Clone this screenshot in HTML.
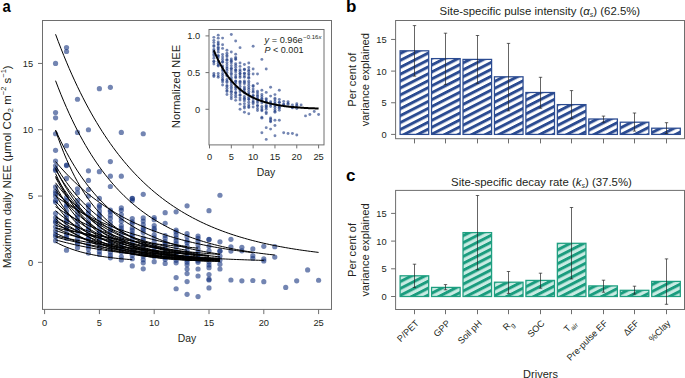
<!DOCTYPE html>
<html><head><meta charset="utf-8"><style>html,body{margin:0;padding:0;background:#fff;width:685px;height:378px;overflow:hidden}svg{display:block}</style></head>
<body><svg width="685" height="378" viewBox="0 0 685 378"><defs>
<pattern id="hb" patternUnits="userSpaceOnUse" width="10" height="6.16" patternTransform="rotate(-27)">
<rect width="10" height="6.16" fill="#fff"/><rect y="0" width="10" height="2.95" fill="#2b4b91"/></pattern>
<pattern id="hc" patternUnits="userSpaceOnUse" width="10" height="6.16" patternTransform="rotate(-27)">
<rect width="10" height="6.16" fill="#c9ebe3"/><rect y="0" width="10" height="2.95" fill="#1a9c7e"/></pattern>
</defs><rect width="685" height="378" fill="#fff"/><rect x="42.5" y="20.5" width="289.0" height="288.9" fill="none" stroke="#6e6e6e" stroke-width="1"/>
<line x1="44.60" y1="309.4" x2="44.60" y2="314.09999999999997" stroke="#6e6e6e" stroke-width="1"/>
<text x="44.60" y="325.9" font-family="Liberation Sans" font-size="9.3" text-anchor="middle" fill="#231f20">0</text>
<line x1="99.40" y1="309.4" x2="99.40" y2="314.09999999999997" stroke="#6e6e6e" stroke-width="1"/>
<text x="99.40" y="325.9" font-family="Liberation Sans" font-size="9.3" text-anchor="middle" fill="#231f20">5</text>
<line x1="154.20" y1="309.4" x2="154.20" y2="314.09999999999997" stroke="#6e6e6e" stroke-width="1"/>
<text x="154.20" y="325.9" font-family="Liberation Sans" font-size="9.3" text-anchor="middle" fill="#231f20">10</text>
<line x1="209.00" y1="309.4" x2="209.00" y2="314.09999999999997" stroke="#6e6e6e" stroke-width="1"/>
<text x="209.00" y="325.9" font-family="Liberation Sans" font-size="9.3" text-anchor="middle" fill="#231f20">15</text>
<line x1="263.80" y1="309.4" x2="263.80" y2="314.09999999999997" stroke="#6e6e6e" stroke-width="1"/>
<text x="263.80" y="325.9" font-family="Liberation Sans" font-size="9.3" text-anchor="middle" fill="#231f20">20</text>
<line x1="318.60" y1="309.4" x2="318.60" y2="314.09999999999997" stroke="#6e6e6e" stroke-width="1"/>
<text x="318.60" y="325.9" font-family="Liberation Sans" font-size="9.3" text-anchor="middle" fill="#231f20">25</text>
<line x1="38.0" y1="262.35" x2="42.5" y2="262.35" stroke="#6e6e6e" stroke-width="1"/>
<text x="33.2" y="265.75" font-family="Liberation Sans" font-size="9.3" text-anchor="end" fill="#231f20">0</text>
<line x1="38.0" y1="196.05" x2="42.5" y2="196.05" stroke="#6e6e6e" stroke-width="1"/>
<text x="33.2" y="199.45" font-family="Liberation Sans" font-size="9.3" text-anchor="end" fill="#231f20">5</text>
<line x1="38.0" y1="129.75" x2="42.5" y2="129.75" stroke="#6e6e6e" stroke-width="1"/>
<text x="33.2" y="133.15" font-family="Liberation Sans" font-size="9.3" text-anchor="end" fill="#231f20">10</text>
<line x1="38.0" y1="63.45" x2="42.5" y2="63.45" stroke="#6e6e6e" stroke-width="1"/>
<text x="33.2" y="66.85" font-family="Liberation Sans" font-size="9.3" text-anchor="end" fill="#231f20">15</text>
<text x="187" y="342" font-family="Liberation Sans" font-size="10.4" text-anchor="middle" fill="#231f20">Day</text>
<text transform="translate(10.6,166.8) rotate(-90)" font-family="Liberation Sans" font-size="11.5" text-anchor="middle" fill="#231f20">Maximum daily NEE (μmol CO<tspan font-size="7.5" dy="2.2">2</tspan><tspan dy="-2.2"> m</tspan><tspan font-size="7.5" dy="-4.5">−2</tspan><tspan dy="4.5"> s</tspan><tspan font-size="7.5" dy="-4.5">−1</tspan><tspan dy="4.5">)</tspan></text>
<text transform="translate(2.4,11.9) scale(0.87,1)" font-family="Liberation Sans" font-size="17" font-weight="bold" fill="#000">a</text>
<g fill="#15337f" fill-opacity="0.6">
<circle cx="55.56" cy="63.45" r="2.6"/>
<circle cx="55.56" cy="112.51" r="2.6"/>
<circle cx="55.56" cy="117.82" r="2.6"/>
<circle cx="55.56" cy="133.73" r="2.6"/>
<circle cx="55.56" cy="150.30" r="2.6"/>
<circle cx="55.56" cy="161.04" r="2.6"/>
<circle cx="55.56" cy="165.82" r="2.6"/>
<circle cx="55.56" cy="170.38" r="2.6"/>
<circle cx="55.56" cy="169.24" r="2.6"/>
<circle cx="55.56" cy="202.09" r="2.6"/>
<circle cx="55.56" cy="200.42" r="2.6"/>
<circle cx="55.56" cy="196.18" r="2.6"/>
<circle cx="55.56" cy="193.51" r="2.6"/>
<circle cx="55.56" cy="191.18" r="2.6"/>
<circle cx="55.56" cy="186.97" r="2.6"/>
<circle cx="55.56" cy="240.71" r="2.6"/>
<circle cx="55.56" cy="236.44" r="2.6"/>
<circle cx="55.56" cy="234.15" r="2.6"/>
<circle cx="55.56" cy="230.85" r="2.6"/>
<circle cx="55.56" cy="226.74" r="2.6"/>
<circle cx="55.56" cy="222.46" r="2.6"/>
<circle cx="55.56" cy="221.04" r="2.6"/>
<circle cx="55.56" cy="217.54" r="2.6"/>
<circle cx="55.56" cy="213.25" r="2.6"/>
<circle cx="66.52" cy="47.54" r="2.6"/>
<circle cx="66.52" cy="51.52" r="2.6"/>
<circle cx="66.52" cy="145.66" r="2.6"/>
<circle cx="66.52" cy="165.02" r="2.6"/>
<circle cx="66.52" cy="165.55" r="2.6"/>
<circle cx="66.52" cy="178.41" r="2.6"/>
<circle cx="66.52" cy="238.37" r="2.6"/>
<circle cx="66.52" cy="236.10" r="2.6"/>
<circle cx="66.52" cy="233.35" r="2.6"/>
<circle cx="66.52" cy="228.64" r="2.6"/>
<circle cx="66.52" cy="227.81" r="2.6"/>
<circle cx="66.52" cy="222.50" r="2.6"/>
<circle cx="66.52" cy="220.74" r="2.6"/>
<circle cx="66.52" cy="217.90" r="2.6"/>
<circle cx="66.52" cy="214.75" r="2.6"/>
<circle cx="66.52" cy="211.03" r="2.6"/>
<circle cx="66.52" cy="206.51" r="2.6"/>
<circle cx="66.52" cy="204.92" r="2.6"/>
<circle cx="66.52" cy="200.67" r="2.6"/>
<circle cx="66.52" cy="197.30" r="2.6"/>
<circle cx="66.52" cy="250.15" r="2.6"/>
<circle cx="77.48" cy="99.25" r="2.6"/>
<circle cx="77.48" cy="132.40" r="2.6"/>
<circle cx="77.48" cy="188.76" r="2.6"/>
<circle cx="77.48" cy="192.74" r="2.6"/>
<circle cx="77.48" cy="247.76" r="2.6"/>
<circle cx="77.48" cy="243.96" r="2.6"/>
<circle cx="77.48" cy="241.92" r="2.6"/>
<circle cx="77.48" cy="238.60" r="2.6"/>
<circle cx="77.48" cy="234.88" r="2.6"/>
<circle cx="77.48" cy="230.28" r="2.6"/>
<circle cx="77.48" cy="227.62" r="2.6"/>
<circle cx="77.48" cy="224.59" r="2.6"/>
<circle cx="77.48" cy="220.53" r="2.6"/>
<circle cx="77.48" cy="217.55" r="2.6"/>
<circle cx="77.48" cy="214.63" r="2.6"/>
<circle cx="77.48" cy="209.98" r="2.6"/>
<circle cx="77.48" cy="206.90" r="2.6"/>
<circle cx="77.48" cy="204.78" r="2.6"/>
<circle cx="77.48" cy="200.57" r="2.6"/>
<circle cx="88.44" cy="129.75" r="2.6"/>
<circle cx="88.44" cy="170.86" r="2.6"/>
<circle cx="88.44" cy="180.40" r="2.6"/>
<circle cx="88.44" cy="189.55" r="2.6"/>
<circle cx="88.44" cy="196.05" r="2.6"/>
<circle cx="88.44" cy="253.23" r="2.6"/>
<circle cx="88.44" cy="249.05" r="2.6"/>
<circle cx="88.44" cy="246.16" r="2.6"/>
<circle cx="88.44" cy="244.05" r="2.6"/>
<circle cx="88.44" cy="238.98" r="2.6"/>
<circle cx="88.44" cy="237.96" r="2.6"/>
<circle cx="88.44" cy="233.91" r="2.6"/>
<circle cx="88.44" cy="229.76" r="2.6"/>
<circle cx="88.44" cy="228.08" r="2.6"/>
<circle cx="88.44" cy="223.93" r="2.6"/>
<circle cx="88.44" cy="221.84" r="2.6"/>
<circle cx="88.44" cy="216.93" r="2.6"/>
<circle cx="88.44" cy="213.42" r="2.6"/>
<circle cx="88.44" cy="210.65" r="2.6"/>
<circle cx="88.44" cy="206.60" r="2.6"/>
<circle cx="88.44" cy="204.80" r="2.6"/>
<circle cx="99.40" cy="88.64" r="2.6"/>
<circle cx="99.40" cy="171.65" r="2.6"/>
<circle cx="99.40" cy="198.44" r="2.6"/>
<circle cx="99.40" cy="254.44" r="2.6"/>
<circle cx="99.40" cy="251.53" r="2.6"/>
<circle cx="99.40" cy="248.40" r="2.6"/>
<circle cx="99.40" cy="245.54" r="2.6"/>
<circle cx="99.40" cy="241.40" r="2.6"/>
<circle cx="99.40" cy="237.97" r="2.6"/>
<circle cx="99.40" cy="236.00" r="2.6"/>
<circle cx="99.40" cy="232.35" r="2.6"/>
<circle cx="99.40" cy="230.71" r="2.6"/>
<circle cx="99.40" cy="225.92" r="2.6"/>
<circle cx="99.40" cy="222.89" r="2.6"/>
<circle cx="99.40" cy="218.85" r="2.6"/>
<circle cx="99.40" cy="216.12" r="2.6"/>
<circle cx="99.40" cy="214.31" r="2.6"/>
<circle cx="99.40" cy="210.89" r="2.6"/>
<circle cx="99.40" cy="207.00" r="2.6"/>
<circle cx="99.40" cy="205.47" r="2.6"/>
<circle cx="110.36" cy="87.32" r="2.6"/>
<circle cx="110.36" cy="161.57" r="2.6"/>
<circle cx="110.36" cy="176.16" r="2.6"/>
<circle cx="110.36" cy="186.50" r="2.6"/>
<circle cx="110.36" cy="257.79" r="2.6"/>
<circle cx="110.36" cy="255.34" r="2.6"/>
<circle cx="110.36" cy="252.26" r="2.6"/>
<circle cx="110.36" cy="249.21" r="2.6"/>
<circle cx="110.36" cy="244.18" r="2.6"/>
<circle cx="110.36" cy="242.61" r="2.6"/>
<circle cx="110.36" cy="239.10" r="2.6"/>
<circle cx="110.36" cy="235.53" r="2.6"/>
<circle cx="110.36" cy="231.09" r="2.6"/>
<circle cx="110.36" cy="229.91" r="2.6"/>
<circle cx="110.36" cy="225.75" r="2.6"/>
<circle cx="110.36" cy="222.29" r="2.6"/>
<circle cx="110.36" cy="218.23" r="2.6"/>
<circle cx="110.36" cy="215.18" r="2.6"/>
<circle cx="110.36" cy="211.86" r="2.6"/>
<circle cx="110.36" cy="210.16" r="2.6"/>
<circle cx="121.32" cy="132.40" r="2.6"/>
<circle cx="121.32" cy="176.16" r="2.6"/>
<circle cx="121.32" cy="259.90" r="2.6"/>
<circle cx="121.32" cy="256.83" r="2.6"/>
<circle cx="121.32" cy="252.27" r="2.6"/>
<circle cx="121.32" cy="248.86" r="2.6"/>
<circle cx="121.32" cy="247.73" r="2.6"/>
<circle cx="121.32" cy="244.45" r="2.6"/>
<circle cx="121.32" cy="241.09" r="2.6"/>
<circle cx="121.32" cy="237.87" r="2.6"/>
<circle cx="121.32" cy="234.01" r="2.6"/>
<circle cx="121.32" cy="230.53" r="2.6"/>
<circle cx="121.32" cy="228.16" r="2.6"/>
<circle cx="121.32" cy="225.61" r="2.6"/>
<circle cx="121.32" cy="221.33" r="2.6"/>
<circle cx="121.32" cy="218.24" r="2.6"/>
<circle cx="121.32" cy="214.52" r="2.6"/>
<circle cx="121.32" cy="210.31" r="2.6"/>
<circle cx="121.32" cy="207.78" r="2.6"/>
<circle cx="132.28" cy="198.30" r="2.6"/>
<circle cx="132.28" cy="198.70" r="2.6"/>
<circle cx="132.28" cy="200.56" r="2.6"/>
<circle cx="132.28" cy="258.74" r="2.6"/>
<circle cx="132.28" cy="255.30" r="2.6"/>
<circle cx="132.28" cy="251.98" r="2.6"/>
<circle cx="132.28" cy="250.39" r="2.6"/>
<circle cx="132.28" cy="245.07" r="2.6"/>
<circle cx="132.28" cy="242.20" r="2.6"/>
<circle cx="132.28" cy="238.79" r="2.6"/>
<circle cx="132.28" cy="235.81" r="2.6"/>
<circle cx="132.28" cy="233.66" r="2.6"/>
<circle cx="132.28" cy="230.47" r="2.6"/>
<circle cx="132.28" cy="228.05" r="2.6"/>
<circle cx="132.28" cy="223.53" r="2.6"/>
<circle cx="132.28" cy="221.81" r="2.6"/>
<circle cx="132.28" cy="218.62" r="2.6"/>
<circle cx="132.28" cy="265.93" r="2.6"/>
<circle cx="143.24" cy="133.73" r="2.6"/>
<circle cx="143.24" cy="194.33" r="2.6"/>
<circle cx="143.24" cy="262.83" r="2.6"/>
<circle cx="143.24" cy="259.76" r="2.6"/>
<circle cx="143.24" cy="256.13" r="2.6"/>
<circle cx="143.24" cy="253.68" r="2.6"/>
<circle cx="143.24" cy="250.63" r="2.6"/>
<circle cx="143.24" cy="247.06" r="2.6"/>
<circle cx="143.24" cy="244.01" r="2.6"/>
<circle cx="143.24" cy="240.16" r="2.6"/>
<circle cx="143.24" cy="237.83" r="2.6"/>
<circle cx="143.24" cy="232.49" r="2.6"/>
<circle cx="143.24" cy="229.97" r="2.6"/>
<circle cx="143.24" cy="227.97" r="2.6"/>
<circle cx="143.24" cy="224.53" r="2.6"/>
<circle cx="143.24" cy="221.10" r="2.6"/>
<circle cx="143.24" cy="217.88" r="2.6"/>
<circle cx="143.24" cy="268.85" r="2.6"/>
<circle cx="154.20" cy="261.69" r="2.6"/>
<circle cx="154.20" cy="256.45" r="2.6"/>
<circle cx="154.20" cy="252.75" r="2.6"/>
<circle cx="154.20" cy="250.84" r="2.6"/>
<circle cx="154.20" cy="247.48" r="2.6"/>
<circle cx="154.20" cy="245.22" r="2.6"/>
<circle cx="154.20" cy="241.86" r="2.6"/>
<circle cx="154.20" cy="237.90" r="2.6"/>
<circle cx="154.20" cy="234.80" r="2.6"/>
<circle cx="154.20" cy="229.99" r="2.6"/>
<circle cx="154.20" cy="228.44" r="2.6"/>
<circle cx="154.20" cy="225.49" r="2.6"/>
<circle cx="154.20" cy="219.72" r="2.6"/>
<circle cx="154.20" cy="217.52" r="2.6"/>
<circle cx="165.16" cy="212.63" r="2.6"/>
<circle cx="165.16" cy="223.23" r="2.6"/>
<circle cx="165.16" cy="263.40" r="2.6"/>
<circle cx="165.16" cy="259.33" r="2.6"/>
<circle cx="165.16" cy="257.52" r="2.6"/>
<circle cx="165.16" cy="253.19" r="2.6"/>
<circle cx="165.16" cy="248.99" r="2.6"/>
<circle cx="165.16" cy="246.18" r="2.6"/>
<circle cx="165.16" cy="243.51" r="2.6"/>
<circle cx="165.16" cy="241.49" r="2.6"/>
<circle cx="165.16" cy="238.14" r="2.6"/>
<circle cx="165.16" cy="235.55" r="2.6"/>
<circle cx="176.12" cy="211.83" r="2.6"/>
<circle cx="176.12" cy="262.78" r="2.6"/>
<circle cx="176.12" cy="260.28" r="2.6"/>
<circle cx="176.12" cy="256.58" r="2.6"/>
<circle cx="176.12" cy="254.59" r="2.6"/>
<circle cx="176.12" cy="251.76" r="2.6"/>
<circle cx="176.12" cy="247.21" r="2.6"/>
<circle cx="176.12" cy="243.69" r="2.6"/>
<circle cx="176.12" cy="240.92" r="2.6"/>
<circle cx="176.12" cy="237.95" r="2.6"/>
<circle cx="176.12" cy="234.82" r="2.6"/>
<circle cx="176.12" cy="231.92" r="2.6"/>
<circle cx="176.12" cy="230.10" r="2.6"/>
<circle cx="176.12" cy="277.60" r="2.6"/>
<circle cx="176.12" cy="288.74" r="2.6"/>
<circle cx="187.08" cy="205.86" r="2.6"/>
<circle cx="187.08" cy="264.78" r="2.6"/>
<circle cx="187.08" cy="262.16" r="2.6"/>
<circle cx="187.08" cy="259.93" r="2.6"/>
<circle cx="187.08" cy="256.92" r="2.6"/>
<circle cx="187.08" cy="253.30" r="2.6"/>
<circle cx="187.08" cy="250.33" r="2.6"/>
<circle cx="187.08" cy="246.28" r="2.6"/>
<circle cx="187.08" cy="242.63" r="2.6"/>
<circle cx="187.08" cy="240.84" r="2.6"/>
<circle cx="187.08" cy="236.64" r="2.6"/>
<circle cx="187.08" cy="233.51" r="2.6"/>
<circle cx="187.08" cy="268.98" r="2.6"/>
<circle cx="187.08" cy="273.62" r="2.6"/>
<circle cx="187.08" cy="281.58" r="2.6"/>
<circle cx="187.08" cy="294.31" r="2.6"/>
<circle cx="198.04" cy="262.37" r="2.6"/>
<circle cx="198.04" cy="260.76" r="2.6"/>
<circle cx="198.04" cy="258.06" r="2.6"/>
<circle cx="198.04" cy="254.99" r="2.6"/>
<circle cx="198.04" cy="252.02" r="2.6"/>
<circle cx="198.04" cy="248.95" r="2.6"/>
<circle cx="198.04" cy="244.88" r="2.6"/>
<circle cx="198.04" cy="241.15" r="2.6"/>
<circle cx="198.04" cy="238.25" r="2.6"/>
<circle cx="198.04" cy="236.08" r="2.6"/>
<circle cx="198.04" cy="268.98" r="2.6"/>
<circle cx="198.04" cy="276.01" r="2.6"/>
<circle cx="198.04" cy="296.56" r="2.6"/>
<circle cx="209.00" cy="210.64" r="2.6"/>
<circle cx="209.00" cy="239.28" r="2.6"/>
<circle cx="209.00" cy="239.68" r="2.6"/>
<circle cx="209.00" cy="246.31" r="2.6"/>
<circle cx="209.00" cy="250.81" r="2.6"/>
<circle cx="209.00" cy="262.08" r="2.6"/>
<circle cx="209.00" cy="265.00" r="2.6"/>
<circle cx="209.00" cy="267.65" r="2.6"/>
<circle cx="209.00" cy="274.55" r="2.6"/>
<circle cx="209.00" cy="279.19" r="2.6"/>
<circle cx="209.00" cy="279.99" r="2.6"/>
<circle cx="209.00" cy="287.94" r="2.6"/>
<circle cx="219.96" cy="195.25" r="2.6"/>
<circle cx="219.96" cy="241.80" r="2.6"/>
<circle cx="219.96" cy="250.81" r="2.6"/>
<circle cx="219.96" cy="251.34" r="2.6"/>
<circle cx="219.96" cy="255.99" r="2.6"/>
<circle cx="219.96" cy="259.96" r="2.6"/>
<circle cx="219.96" cy="264.21" r="2.6"/>
<circle cx="219.96" cy="268.98" r="2.6"/>
<circle cx="230.92" cy="239.28" r="2.6"/>
<circle cx="230.92" cy="246.84" r="2.6"/>
<circle cx="230.92" cy="251.08" r="2.6"/>
<circle cx="230.92" cy="279.99" r="2.6"/>
<circle cx="241.88" cy="247.23" r="2.6"/>
<circle cx="241.88" cy="250.81" r="2.6"/>
<circle cx="241.88" cy="280.78" r="2.6"/>
<circle cx="252.84" cy="248.96" r="2.6"/>
<circle cx="252.84" cy="255.72" r="2.6"/>
<circle cx="252.84" cy="258.24" r="2.6"/>
<circle cx="252.84" cy="280.52" r="2.6"/>
<circle cx="263.80" cy="246.31" r="2.6"/>
<circle cx="263.80" cy="258.90" r="2.6"/>
<circle cx="263.80" cy="261.02" r="2.6"/>
<circle cx="263.80" cy="281.71" r="2.6"/>
<circle cx="274.76" cy="246.70" r="2.6"/>
<circle cx="274.76" cy="257.05" r="2.6"/>
<circle cx="285.72" cy="287.41" r="2.6"/>
<circle cx="296.68" cy="280.78" r="2.6"/>
<circle cx="307.64" cy="269.91" r="2.6"/>
<circle cx="318.60" cy="280.25" r="2.6"/>
</g>
<g fill="none" stroke="#000" stroke-width="1">
<path d="M55.56,34.28 L58.30,41.60 L61.04,48.68 L63.78,55.54 L66.52,62.18 L69.26,68.61 L72.00,74.83 L74.74,80.84 L77.48,86.67 L80.22,92.31 L82.96,97.77 L85.70,103.05 L88.44,108.16 L91.18,113.11 L93.92,117.90 L96.66,122.54 L99.40,127.03 L102.14,131.37 L104.88,135.58 L107.62,139.64 L110.36,143.58 L113.10,147.40 L115.84,151.09 L118.58,154.66 L121.32,158.11 L124.06,161.46 L126.80,164.70 L129.54,167.83 L132.28,170.87 L135.02,173.80 L137.76,176.64 L140.50,179.40 L143.24,182.06 L145.98,184.64 L148.72,187.13 L151.46,189.54 L154.20,191.88 L156.94,194.14 L159.68,196.33 L162.42,198.45 L165.16,200.50 L167.90,202.49 L170.64,204.41 L173.38,206.27 L176.12,208.07 L178.86,209.81 L181.60,211.50 L184.34,213.13 L187.08,214.71 L189.82,216.24 L192.56,217.72 L195.30,219.15 L198.04,220.54 L200.78,221.88 L203.52,223.18 L206.26,224.44 L209.00,225.65 L211.74,226.83 L214.48,227.97 L217.22,229.08 L219.96,230.14 L222.70,231.18 L225.44,232.18 L228.18,233.15 L230.92,234.08 L233.66,234.99 L236.40,235.87 L239.14,236.72 L241.88,237.54 L244.62,238.34 L247.36,239.11 L250.10,239.86 L252.84,240.58 L255.58,241.28 L258.32,241.95 L261.06,242.61 L263.80,243.24 L266.54,243.85 L269.28,244.45 L272.02,245.02 L274.76,245.58 L277.50,246.12 L280.24,246.64 L282.98,247.14 L285.72,247.63 L288.46,248.10 L291.20,248.56 L293.94,249.00 L296.68,249.43 L299.42,249.85 L302.16,250.25 L304.90,250.64 L307.64,251.01 L310.38,251.38 L313.12,251.73 L315.86,252.07 L318.60,252.40"/>
<path d="M55.56,80.69 L58.30,87.84 L61.04,94.71 L63.78,101.30 L66.52,107.64 L69.26,113.73 L72.00,119.58 L74.74,125.20 L77.48,130.59 L80.22,135.78 L82.96,140.76 L85.70,145.55 L88.44,150.14 L91.18,154.56 L93.92,158.80 L96.66,162.88 L99.40,166.79 L102.14,170.55 L104.88,174.16 L107.62,177.63 L110.36,180.97 L113.10,184.17 L115.84,187.25 L118.58,190.20 L121.32,193.04 L124.06,195.77 L126.80,198.39 L129.54,200.91 L132.28,203.33 L135.02,205.65 L137.76,207.88 L140.50,210.02 L143.24,212.08 L145.98,214.06 L148.72,215.96 L151.46,217.79 L154.20,219.54 L156.94,221.23 L159.68,222.84 L162.42,224.40 L165.16,225.89 L167.90,227.33 L170.64,228.71 L173.38,230.03 L176.12,231.30 L178.86,232.52 L181.60,233.70 L184.34,234.82 L187.08,235.91 L189.82,236.95 L192.56,237.95 L195.30,238.91 L198.04,239.83 L200.78,240.72 L203.52,241.57 L206.26,242.39 L209.00,243.17 L211.74,243.93 L214.48,244.65 L217.22,245.35 L219.96,246.02 L222.70,246.66 L225.44,247.28 L228.18,247.87 L230.92,248.44 L233.66,248.99 L236.40,249.51 L239.14,250.02 L241.88,250.50 L244.62,250.97 L247.36,251.42 L250.10,251.85 L252.84,252.26 L255.58,252.66 L258.32,253.04 L261.06,253.41 L263.80,253.76 L266.54,254.10 L269.28,254.42 L272.02,254.73 L274.76,255.03"/>
<path d="M55.56,130.02 L58.30,136.00 L61.04,141.71 L63.78,147.16 L66.52,152.37 L69.26,157.34 L72.00,162.08 L74.74,166.61 L77.48,170.94 L80.22,175.07 L82.96,179.02 L85.70,182.78 L88.44,186.38 L91.18,189.81 L93.92,193.09 L96.66,196.22 L99.40,199.21 L102.14,202.06 L104.88,204.79 L107.62,207.39 L110.36,209.88 L113.10,212.25 L115.84,214.51 L118.58,216.67 L121.32,218.74 L124.06,220.71 L126.80,222.59 L129.54,224.39 L132.28,226.10 L135.02,227.74 L137.76,229.31 L140.50,230.80 L143.24,232.23 L145.98,233.59 L148.72,234.89 L151.46,236.13 L154.20,237.31 L156.94,238.45 L159.68,239.53 L162.42,240.56 L165.16,241.54 L167.90,242.48 L170.64,243.38 L173.38,244.24 L176.12,245.06 L178.86,245.84 L181.60,246.58 L184.34,247.30 L187.08,247.98 L189.82,248.63 L192.56,249.25 L195.30,249.84 L198.04,250.40 L200.78,250.94 L203.52,251.46 L206.26,251.95 L209.00,252.42 L211.74,252.87 L214.48,253.30 L217.22,253.71 L219.96,254.10"/>
<path d="M55.56,130.41 L58.30,138.34 L61.04,145.78 L63.78,152.76 L66.52,159.31 L69.26,165.47 L72.00,171.24 L74.74,176.66 L77.48,181.75 L80.22,186.53 L82.96,191.01 L85.70,195.22 L88.44,199.18 L91.18,202.88 L93.92,206.37 L96.66,209.64 L99.40,212.70 L102.14,215.58 L104.88,218.29 L107.62,220.83 L110.36,223.21 L113.10,225.45 L115.84,227.54 L118.58,229.52 L121.32,231.37 L124.06,233.10 L126.80,234.73 L129.54,236.26 L132.28,237.70 L135.02,239.05 L137.76,240.31 L140.50,241.50 L143.24,242.62 L145.98,243.66 L148.72,244.65 L151.46,245.57 L154.20,246.43 L156.94,247.25 L159.68,248.01 L162.42,248.73 L165.16,249.40 L167.90,250.03 L170.64,250.62 L173.38,251.18 L176.12,251.70 L178.86,252.19 L181.60,252.65 L184.34,253.08 L187.08,253.49 L189.82,253.87 L192.56,254.23 L195.30,254.56 L198.04,254.88 L200.78,255.17 L203.52,255.45 L206.26,255.71 L209.00,255.95"/>
<path d="M55.56,161.57 L58.30,164.80 L61.04,167.92 L63.78,170.94 L66.52,173.86 L69.26,176.69 L72.00,179.43 L74.74,182.08 L77.48,184.65 L80.22,187.13 L82.96,189.54 L85.70,191.86 L88.44,194.12 L91.18,196.30 L93.92,198.41 L96.66,200.46 L99.40,202.44 L102.14,204.35 L104.88,206.21 L107.62,208.00 L110.36,209.74 L113.10,211.42 L115.84,213.05 L118.58,214.63 L121.32,216.15 L124.06,217.63 L126.80,219.06 L129.54,220.45 L132.28,221.79 L135.02,223.08 L137.76,224.34 L140.50,225.55 L143.24,226.73 L145.98,227.87 L148.72,228.97 L151.46,230.04 L154.20,231.07 L156.94,232.07 L159.68,233.04 L162.42,233.98 L165.16,234.89 L167.90,235.76 L170.64,236.61 L173.38,237.44 L176.12,238.23 L178.86,239.00 L181.60,239.75 L184.34,240.47 L187.08,241.17 L189.82,241.85 L192.56,242.51 L195.30,243.14 L198.04,243.75 L200.78,244.35 L203.52,244.93 L206.26,245.48 L209.00,246.02 L211.74,246.54 L214.48,247.05 L217.22,247.54 L219.96,248.01 L222.70,248.47 L225.44,248.91 L228.18,249.34 L230.92,249.76 L233.66,250.16 L236.40,250.55 L239.14,250.93 L241.88,251.29 L244.62,251.65 L247.36,251.99 L250.10,252.32 L252.84,252.64"/>
<path d="M55.56,227.87 L58.30,229.15 L61.04,230.38 L63.78,231.57 L66.52,232.71 L69.26,233.80 L72.00,234.86 L74.74,235.88 L77.48,236.86 L80.22,237.80 L82.96,238.71 L85.70,239.59 L88.44,240.43 L91.18,241.24 L93.92,242.03 L96.66,242.78 L99.40,243.50 L102.14,244.20 L104.88,244.88 L107.62,245.52 L110.36,246.15 L113.10,246.75 L115.84,247.32 L118.58,247.88 L121.32,248.42 L124.06,248.93 L126.80,249.43 L129.54,249.91 L132.28,250.37 L135.02,250.81 L137.76,251.24 L140.50,251.65 L143.24,252.05 L145.98,252.43 L148.72,252.80 L151.46,253.15 L154.20,253.49 L156.94,253.82 L159.68,254.14 L162.42,254.44 L165.16,254.73 L167.90,255.02 L170.64,255.29 L173.38,255.55 L176.12,255.80 L178.86,256.04 L181.60,256.28 L184.34,256.50 L187.08,256.72 L189.82,256.93 L192.56,257.13 L195.30,257.32 L198.04,257.51 L200.78,257.69 L203.52,257.86 L206.26,258.03 L209.00,258.19 L211.74,258.34 L214.48,258.49 L217.22,258.63 L219.96,258.77 L222.70,258.90 L225.44,259.03 L228.18,259.15 L230.92,259.27 L233.66,259.39 L236.40,259.50 L239.14,259.60 L241.88,259.70 L244.62,259.80 L247.36,259.90 L250.10,259.99 L252.84,260.07 L255.58,260.16 L258.32,260.24 L261.06,260.32 L263.80,260.39"/>
<path d="M55.56,242.06 L58.30,243.48 L61.04,244.80 L63.78,246.03 L66.52,247.17 L69.26,248.23 L72.00,249.22 L74.74,250.14 L77.48,250.99 L80.22,251.79 L82.96,252.52 L85.70,253.21 L88.44,253.85 L91.18,254.44 L93.92,255.00 L96.66,255.51 L99.40,255.99 L102.14,256.43 L104.88,256.85 L107.62,257.23 L110.36,257.59 L113.10,257.92 L115.84,258.23 L118.58,258.52 L121.32,258.79 L124.06,259.04 L126.80,259.27 L129.54,259.49 L132.28,259.69"/>
<path d="M55.56,196.05 L58.30,198.01 L61.04,199.91 L63.78,201.76 L66.52,203.55 L69.26,205.29 L72.00,206.97 L74.74,208.61 L77.48,210.20 L80.22,211.74 L82.96,213.23 L85.70,214.69 L88.44,216.09 L91.18,217.46 L93.92,218.79 L96.66,220.08 L99.40,221.32 L102.14,222.54 L104.88,223.71 L107.62,224.86 L110.36,225.96 L113.10,227.04 L115.84,228.08 L118.58,229.10 L121.32,230.08 L124.06,231.03 L126.80,231.96 L129.54,232.86 L132.28,233.73 L135.02,234.57 L137.76,235.39 L140.50,236.19 L143.24,236.96 L145.98,237.71 L148.72,238.44 L151.46,239.15 L154.20,239.83 L156.94,240.50 L159.68,241.15 L162.42,241.77 L165.16,242.38 L167.90,242.97 L170.64,243.54 L173.38,244.10 L176.12,244.64 L178.86,245.16 L181.60,245.67 L184.34,246.16 L187.08,246.64"/>
<path d="M55.56,165.55 L58.30,170.07 L61.04,174.38 L63.78,178.48 L66.52,182.40 L69.26,186.13 L72.00,189.69 L74.74,193.08 L77.48,196.31 L80.22,199.39 L82.96,202.33 L85.70,205.13 L88.44,207.80 L91.18,210.35 L93.92,212.77 L96.66,215.09 L99.40,217.29 L102.14,219.40 L104.88,221.40 L107.62,223.31 L110.36,225.13 L113.10,226.87 L115.84,228.53 L118.58,230.11 L121.32,231.61 L124.06,233.04 L126.80,234.41 L129.54,235.72 L132.28,236.96 L135.02,238.14 L137.76,239.27 L140.50,240.35 L143.24,241.38 L145.98,242.36 L148.72,243.29 L151.46,244.18 L154.20,245.03 L156.94,245.84 L159.68,246.61 L162.42,247.34 L165.16,248.04 L167.90,248.71 L170.64,249.35 L173.38,249.95 L176.12,250.53 L178.86,251.08 L181.60,251.61 L184.34,252.11 L187.08,252.59 L189.82,253.04 L192.56,253.48 L195.30,253.89 L198.04,254.29 L200.78,254.66 L203.52,255.02 L206.26,255.36 L209.00,255.69 L211.74,256.00 L214.48,256.30 L217.22,256.58 L219.96,256.85"/>
<path d="M55.56,168.20 L58.30,173.78 L61.04,179.02 L63.78,183.96 L66.52,188.60 L69.26,192.96 L72.00,197.07 L74.74,200.94 L77.48,204.57 L80.22,207.99 L82.96,211.21 L85.70,214.24 L88.44,217.09 L91.18,219.77 L93.92,222.29 L96.66,224.66 L99.40,226.89 L102.14,228.99 L104.88,230.97 L107.62,232.82 L110.36,234.57 L113.10,236.22 L115.84,237.76 L118.58,239.22 L121.32,240.59 L124.06,241.88 L126.80,243.09 L129.54,244.23 L132.28,245.30 L135.02,246.31 L137.76,247.26 L140.50,248.15 L143.24,248.99 L145.98,249.79 L148.72,250.53 L151.46,251.23 L154.20,251.89 L156.94,252.51 L159.68,253.09 L162.42,253.64 L165.16,254.15 L167.90,254.64 L170.64,255.10 L173.38,255.53 L176.12,255.93 L178.86,256.31 L181.60,256.67 L184.34,257.00 L187.08,257.32 L189.82,257.62 L192.56,257.90 L195.30,258.16 L198.04,258.41 L200.78,258.64 L203.52,258.86 L206.26,259.07 L209.00,259.26"/>
<path d="M55.56,169.53 L58.30,174.19 L61.04,178.62 L63.78,182.82 L66.52,186.82 L69.26,190.61 L72.00,194.21 L74.74,197.64 L77.48,200.89 L80.22,203.97 L82.96,206.91 L85.70,209.69 L88.44,212.33 L91.18,214.85 L93.92,217.23 L96.66,219.50 L99.40,221.65 L102.14,223.69 L104.88,225.64 L107.62,227.48 L110.36,229.23 L113.10,230.89 L115.84,232.47 L118.58,233.97 L121.32,235.40 L124.06,236.75 L126.80,238.04 L129.54,239.26 L132.28,240.42 L135.02,241.52 L137.76,242.57 L140.50,243.56 L143.24,244.50 L145.98,245.40 L148.72,246.25 L151.46,247.06 L154.20,247.83 L156.94,248.56 L159.68,249.25 L162.42,249.91 L165.16,250.53 L167.90,251.13 L170.64,251.69 L173.38,252.23 L176.12,252.73 L178.86,253.22 L181.60,253.68 L184.34,254.11 L187.08,254.52 L189.82,254.92 L192.56,255.29 L195.30,255.65 L198.04,255.98"/>
<path d="M55.56,173.51 L58.30,179.46 L61.04,185.00 L63.78,190.18 L66.52,195.01 L69.26,199.52 L72.00,203.73 L74.74,207.65 L77.48,211.31 L80.22,214.73 L82.96,217.92 L85.70,220.89 L88.44,223.67 L91.18,226.26 L93.92,228.67 L96.66,230.93 L99.40,233.03 L102.14,234.99 L104.88,236.83 L107.62,238.53 L110.36,240.13 L113.10,241.62 L115.84,243.00 L118.58,244.30 L121.32,245.51 L124.06,246.63 L126.80,247.69 L129.54,248.67 L132.28,249.58 L135.02,250.44 L137.76,251.24 L140.50,251.98 L143.24,252.67 L145.98,253.32 L148.72,253.93 L151.46,254.49 L154.20,255.02 L156.94,255.51 L159.68,255.97 L162.42,256.39 L165.16,256.79 L167.90,257.16 L170.64,257.51 L173.38,257.83 L176.12,258.14 L178.86,258.42 L181.60,258.68 L184.34,258.93 L187.08,259.16 L189.82,259.37 L192.56,259.57 L195.30,259.76 L198.04,259.93 L200.78,260.09 L203.52,260.24 L206.26,260.38 L209.00,260.52 L211.74,260.64 L214.48,260.75 L217.22,260.86 L219.96,260.96"/>
<path d="M55.56,176.16 L58.30,180.74 L61.04,185.07 L63.78,189.18 L66.52,193.06 L69.26,196.74 L72.00,200.22 L74.74,203.52 L77.48,206.65 L80.22,209.61 L82.96,212.41 L85.70,215.06 L88.44,217.57 L91.18,219.95 L93.92,222.20 L96.66,224.33 L99.40,226.35 L102.14,228.26 L104.88,230.07 L107.62,231.79 L110.36,233.41 L113.10,234.95 L115.84,236.40 L118.58,237.78 L121.32,239.09 L124.06,240.32 L126.80,241.49 L129.54,242.60 L132.28,243.65 L135.02,244.64 L137.76,245.58 L140.50,246.47 L143.24,247.31 L145.98,248.11 L148.72,248.87 L151.46,249.59 L154.20,250.26 L156.94,250.90 L159.68,251.51 L162.42,252.09 L165.16,252.63 L167.90,253.15 L170.64,253.64 L173.38,254.10 L176.12,254.54"/>
<path d="M55.56,177.49 L58.30,182.54 L61.04,187.29 L63.78,191.76 L66.52,195.96 L69.26,199.91 L72.00,203.63 L74.74,207.12 L77.48,210.41 L80.22,213.50 L82.96,216.41 L85.70,219.15 L88.44,221.72 L91.18,224.14 L93.92,226.41 L96.66,228.55 L99.40,230.56 L102.14,232.45 L104.88,234.23 L107.62,235.91 L110.36,237.48 L113.10,238.96 L115.84,240.35 L118.58,241.66 L121.32,242.90 L124.06,244.05 L126.80,245.14 L129.54,246.17 L132.28,247.13 L135.02,248.04 L137.76,248.89 L140.50,249.69 L143.24,250.44 L145.98,251.15 L148.72,251.82 L151.46,252.45 L154.20,253.04 L156.94,253.59 L159.68,254.11 L162.42,254.60 L165.16,255.06 L167.90,255.50 L170.64,255.90 L173.38,256.29 L176.12,256.65 L178.86,256.99 L181.60,257.31 L184.34,257.61 L187.08,257.89 L189.82,258.16 L192.56,258.41 L195.30,258.64 L198.04,258.86 L200.78,259.07 L203.52,259.26 L206.26,259.45 L209.00,259.62 L211.74,259.78 L214.48,259.94 L217.22,260.08 L219.96,260.21"/>
<path d="M55.56,182.79 L58.30,186.40 L61.04,189.85 L63.78,193.14 L66.52,196.28 L69.26,199.28 L72.00,202.14 L74.74,204.87 L77.48,207.48 L80.22,209.97 L82.96,212.35 L85.70,214.62 L88.44,216.79 L91.18,218.85 L93.92,220.83 L96.66,222.71 L99.40,224.51 L102.14,226.23 L104.88,227.87 L107.62,229.43 L110.36,230.93 L113.10,232.35 L115.84,233.72 L118.58,235.01 L121.32,236.26 L124.06,237.44 L126.80,238.57 L129.54,239.65 L132.28,240.68 L135.02,241.66 L137.76,242.60 L140.50,243.50 L143.24,244.35 L145.98,245.17 L148.72,245.95 L151.46,246.69 L154.20,247.41 L156.94,248.08 L159.68,248.73 L162.42,249.35 L165.16,249.94 L167.90,250.50 L170.64,251.04 L173.38,251.55 L176.12,252.04 L178.86,252.51 L181.60,252.96 L184.34,253.38 L187.08,253.79 L189.82,254.18 L192.56,254.55 L195.30,254.90 L198.04,255.24 L200.78,255.57 L203.52,255.87 L206.26,256.17 L209.00,256.45"/>
<path d="M55.56,185.44 L58.30,190.59 L61.04,195.39 L63.78,199.87 L66.52,204.05 L69.26,207.95 L72.00,211.59 L74.74,214.98 L77.48,218.15 L80.22,221.11 L82.96,223.87 L85.70,226.44 L88.44,228.84 L91.18,231.08 L93.92,233.18 L96.66,235.13 L99.40,236.95 L102.14,238.65 L104.88,240.23 L107.62,241.71 L110.36,243.09 L113.10,244.38 L115.84,245.58 L118.58,246.70 L121.32,247.75 L124.06,248.73 L126.80,249.64 L129.54,250.49 L132.28,251.28 L135.02,252.02 L137.76,252.71 L140.50,253.36 L143.24,253.96 L145.98,254.52 L148.72,255.04 L151.46,255.53 L154.20,255.99 L156.94,256.41 L159.68,256.81 L162.42,257.18 L165.16,257.53 L167.90,257.85 L170.64,258.15 L173.38,258.43 L176.12,258.69 L178.86,258.94 L181.60,259.17 L184.34,259.38 L187.08,259.58 L189.82,259.76 L192.56,259.94 L195.30,260.10 L198.04,260.25"/>
<path d="M55.56,189.42 L58.30,193.10 L61.04,196.59 L63.78,199.90 L66.52,203.05 L69.26,206.04 L72.00,208.87 L74.74,211.57 L77.48,214.13 L80.22,216.56 L82.96,218.87 L85.70,221.06 L88.44,223.14 L91.18,225.11 L93.92,226.99 L96.66,228.77 L99.40,230.47 L102.14,232.07 L104.88,233.60 L107.62,235.05 L110.36,236.42 L113.10,237.73 L115.84,238.97 L118.58,240.15 L121.32,241.27 L124.06,242.33 L126.80,243.34 L129.54,244.30 L132.28,245.21 L135.02,246.07 L137.76,246.89 L140.50,247.67 L143.24,248.41 L145.98,249.11 L148.72,249.78 L151.46,250.41 L154.20,251.01 L156.94,251.59 L159.68,252.13 L162.42,252.64 L165.16,253.13 L167.90,253.60 L170.64,254.04 L173.38,254.46 L176.12,254.86 L178.86,255.23 L181.60,255.59 L184.34,255.93 L187.08,256.26 L189.82,256.56 L192.56,256.85 L195.30,257.13 L198.04,257.39 L200.78,257.64 L203.52,257.88 L206.26,258.11 L209.00,258.32 L211.74,258.52 L214.48,258.72 L217.22,258.90 L219.96,259.07"/>
<path d="M55.56,192.07 L58.30,194.60 L61.04,197.04 L63.78,199.39 L66.52,201.66 L69.26,203.85 L72.00,205.95 L74.74,207.99 L77.48,209.94 L80.22,211.83 L82.96,213.65 L85.70,215.40 L88.44,217.09 L91.18,218.72 L93.92,220.30 L96.66,221.81 L99.40,223.27 L102.14,224.68 L104.88,226.03 L107.62,227.34 L110.36,228.60 L113.10,229.82 L115.84,230.99 L118.58,232.12 L121.32,233.21 L124.06,234.26 L126.80,235.27 L129.54,236.24 L132.28,237.18 L135.02,238.09 L137.76,238.96 L140.50,239.81 L143.24,240.62 L145.98,241.40 L148.72,242.16 L151.46,242.88 L154.20,243.58 L156.94,244.26 L159.68,244.91 L162.42,245.54 L165.16,246.14 L167.90,246.73 L170.64,247.29 L173.38,247.83 L176.12,248.36 L178.86,248.86 L181.60,249.35 L184.34,249.81 L187.08,250.27"/>
<path d="M55.56,194.72 L58.30,199.36 L61.04,203.68 L63.78,207.70 L66.52,211.45 L69.26,214.94 L72.00,218.19 L74.74,221.21 L77.48,224.03 L80.22,226.66 L82.96,229.11 L85.70,231.39 L88.44,233.51 L91.18,235.49 L93.92,237.33 L96.66,239.04 L99.40,240.64 L102.14,242.13 L104.88,243.51 L107.62,244.81 L110.36,246.01 L113.10,247.13 L115.84,248.17 L118.58,249.14 L121.32,250.05 L124.06,250.89 L126.80,251.68 L129.54,252.41 L132.28,253.09 L135.02,253.73 L137.76,254.32 L140.50,254.87 L143.24,255.38 L145.98,255.86 L148.72,256.30 L151.46,256.72 L154.20,257.10 L156.94,257.46 L159.68,257.80 L162.42,258.11 L165.16,258.40 L167.90,258.67 L170.64,258.92 L173.38,259.16 L176.12,259.38 L178.86,259.58 L181.60,259.77 L184.34,259.95 L187.08,260.11 L189.82,260.27 L192.56,260.41 L195.30,260.54 L198.04,260.67 L200.78,260.78 L203.52,260.89 L206.26,260.99 L209.00,261.08"/>
<path d="M55.56,201.35 L58.30,204.26 L61.04,207.04 L63.78,209.68 L66.52,212.19 L69.26,214.58 L72.00,216.86 L74.74,219.03 L77.48,221.10 L80.22,223.07 L82.96,224.94 L85.70,226.73 L88.44,228.43 L91.18,230.05 L93.92,231.59 L96.66,233.05 L99.40,234.45 L102.14,235.78 L104.88,237.05 L107.62,238.26 L110.36,239.41 L113.10,240.50 L115.84,241.54 L118.58,242.54 L121.32,243.48 L124.06,244.38 L126.80,245.24 L129.54,246.06 L132.28,246.83 L135.02,247.57 L137.76,248.28 L140.50,248.95 L143.24,249.59 L145.98,250.20 L148.72,250.78 L151.46,251.33 L154.20,251.86 L156.94,252.36 L159.68,252.83 L162.42,253.29 L165.16,253.72 L167.90,254.13 L170.64,254.52 L173.38,254.90 L176.12,255.25 L178.86,255.59 L181.60,255.91 L184.34,256.22 L187.08,256.51 L189.82,256.79 L192.56,257.06 L195.30,257.31 L198.04,257.55 L200.78,257.78 L203.52,258.00 L206.26,258.21 L209.00,258.40 L211.74,258.59 L214.48,258.77 L217.22,258.94 L219.96,259.10"/>
<path d="M55.56,204.01 L58.30,207.87 L61.04,211.49 L63.78,214.86 L66.52,218.01 L69.26,220.95 L72.00,223.69 L74.74,226.25 L77.48,228.65 L80.22,230.88 L82.96,232.97 L85.70,234.91 L88.44,236.73 L91.18,238.43 L93.92,240.02 L96.66,241.50 L99.40,242.88 L102.14,244.17 L104.88,245.38 L107.62,246.50 L110.36,247.55 L113.10,248.53 L115.84,249.45 L118.58,250.30 L121.32,251.10 L124.06,251.85 L126.80,252.54 L129.54,253.19 L132.28,253.80 L135.02,254.37 L137.76,254.90 L140.50,255.39 L143.24,255.85 L145.98,256.28 L148.72,256.69 L151.46,257.06 L154.20,257.41 L156.94,257.74 L159.68,258.04 L162.42,258.33 L165.16,258.60 L167.90,258.85 L170.64,259.08 L173.38,259.29 L176.12,259.50 L178.86,259.69 L181.60,259.86 L184.34,260.03 L187.08,260.18 L189.82,260.33 L192.56,260.46 L195.30,260.59 L198.04,260.70 L200.78,260.81 L203.52,260.91 L206.26,261.01 L209.00,261.10 L211.74,261.18 L214.48,261.26 L217.22,261.33 L219.96,261.40"/>
<path d="M55.56,206.66 L58.30,208.54 L61.04,210.36 L63.78,212.11 L66.52,213.81 L69.26,215.45 L72.00,217.03 L74.74,218.56 L77.48,220.04 L80.22,221.47 L82.96,222.85 L85.70,224.18 L88.44,225.47 L91.18,226.72 L93.92,227.92 L96.66,229.08 L99.40,230.21 L102.14,231.29 L104.88,232.34 L107.62,233.35 L110.36,234.33 L113.10,235.28 L115.84,236.19 L118.58,237.08 L121.32,237.93 L124.06,238.75 L126.80,239.55 L129.54,240.32 L132.28,241.06 L135.02,241.78 L137.76,242.48 L140.50,243.15 L143.24,243.80 L145.98,244.42 L148.72,245.03 L151.46,245.61 L154.20,246.18 L156.94,246.72 L159.68,247.25 L162.42,247.76 L165.16,248.25"/>
<path d="M55.56,210.64 L58.30,213.03 L61.04,215.32 L63.78,217.49 L66.52,219.57 L69.26,221.55 L72.00,223.44 L74.74,225.25 L77.48,226.97 L80.22,228.60 L82.96,230.17 L85.70,231.66 L88.44,233.08 L91.18,234.44 L93.92,235.73 L96.66,236.96 L99.40,238.14 L102.14,239.26 L104.88,240.33 L107.62,241.35 L110.36,242.32 L113.10,243.25 L115.84,244.13 L118.58,244.98 L121.32,245.78 L124.06,246.55 L126.80,247.28 L129.54,247.98 L132.28,248.65 L135.02,249.28 L137.76,249.89 L140.50,250.46 L143.24,251.01 L145.98,251.54 L148.72,252.04 L151.46,252.52 L154.20,252.97 L156.94,253.41 L159.68,253.82 L162.42,254.22 L165.16,254.59 L167.90,254.95 L170.64,255.30 L173.38,255.62 L176.12,255.93 L178.86,256.23 L181.60,256.51 L184.34,256.79 L187.08,257.04 L189.82,257.29 L192.56,257.52 L195.30,257.75 L198.04,257.96 L200.78,258.16 L203.52,258.36 L206.26,258.54 L209.00,258.72"/>
<path d="M55.56,215.94 L58.30,218.18 L61.04,220.32 L63.78,222.35 L66.52,224.29 L69.26,226.13 L72.00,227.88 L74.74,229.54 L77.48,231.13 L80.22,232.64 L82.96,234.08 L85.70,235.44 L88.44,236.74 L91.18,237.98 L93.92,239.16 L96.66,240.28 L99.40,241.35 L102.14,242.36 L104.88,243.33 L107.62,244.25 L110.36,245.12 L113.10,245.96 L115.84,246.75 L118.58,247.50 L121.32,248.22 L124.06,248.91 L126.80,249.56 L129.54,250.17 L132.28,250.76 L135.02,251.32 L137.76,251.86 L140.50,252.36 L143.24,252.85 L145.98,253.31 L148.72,253.74 L151.46,254.16 L154.20,254.56 L156.94,254.93 L159.68,255.29 L162.42,255.63 L165.16,255.96 L167.90,256.27 L170.64,256.56 L173.38,256.84 L176.12,257.11 L178.86,257.36 L181.60,257.60 L184.34,257.83 L187.08,258.05 L189.82,258.26 L192.56,258.46 L195.30,258.64 L198.04,258.82 L200.78,258.99 L203.52,259.16 L206.26,259.31 L209.00,259.46 L211.74,259.60 L214.48,259.73 L217.22,259.86 L219.96,259.98"/>
<path d="M55.56,217.27 L58.30,218.63 L61.04,219.95 L63.78,221.24 L66.52,222.48 L69.26,223.69 L72.00,224.86 L74.74,226.00 L77.48,227.10 L80.22,228.16 L82.96,229.20 L85.70,230.20 L88.44,231.18 L91.18,232.12 L93.92,233.04 L96.66,233.92 L99.40,234.78 L102.14,235.62 L104.88,236.43 L107.62,237.21 L110.36,237.97 L113.10,238.71 L115.84,239.43 L118.58,240.12 L121.32,240.80 L124.06,241.45 L126.80,242.08 L129.54,242.70 L132.28,243.29 L135.02,243.87 L137.76,244.43 L140.50,244.97 L143.24,245.50 L145.98,246.01 L148.72,246.50 L151.46,246.98 L154.20,247.45 L156.94,247.90 L159.68,248.34 L162.42,248.76 L165.16,249.17 L167.90,249.57 L170.64,249.96 L173.38,250.33 L176.12,250.70 L178.86,251.05 L181.60,251.39 L184.34,251.72 L187.08,252.05 L189.82,252.36 L192.56,252.66 L195.30,252.95 L198.04,253.24"/>
<path d="M55.56,218.59 L58.30,221.15 L61.04,223.55 L63.78,225.82 L66.52,227.95 L69.26,229.96 L72.00,231.85 L74.74,233.63 L77.48,235.31 L80.22,236.88 L82.96,238.37 L85.70,239.77 L88.44,241.09 L91.18,242.33 L93.92,243.50 L96.66,244.60 L99.40,245.64 L102.14,246.61 L104.88,247.53 L107.62,248.40 L110.36,249.21 L113.10,249.98 L115.84,250.70 L118.58,251.38 L121.32,252.02 L124.06,252.62 L126.80,253.19 L129.54,253.73 L132.28,254.23 L135.02,254.70 L137.76,255.15 L140.50,255.57 L143.24,255.97 L145.98,256.34 L148.72,256.69 L151.46,257.02 L154.20,257.33 L156.94,257.62 L159.68,257.90 L162.42,258.16 L165.16,258.40 L167.90,258.63 L170.64,258.85 L173.38,259.06 L176.12,259.25 L178.86,259.43 L181.60,259.60 L184.34,259.76 L187.08,259.91 L189.82,260.05 L192.56,260.19 L195.30,260.31 L198.04,260.43 L200.78,260.54 L203.52,260.65 L206.26,260.75 L209.00,260.84 L211.74,260.93 L214.48,261.01 L217.22,261.09 L219.96,261.17"/>
<path d="M55.56,221.24 L58.30,222.60 L61.04,223.92 L63.78,225.19 L66.52,226.41 L69.26,227.60 L72.00,228.75 L74.74,229.86 L77.48,230.93 L80.22,231.97 L82.96,232.98 L85.70,233.95 L88.44,234.89 L91.18,235.79 L93.92,236.67 L96.66,237.52 L99.40,238.34 L102.14,239.13 L104.88,239.90 L107.62,240.64 L110.36,241.36 L113.10,242.05 L115.84,242.73 L118.58,243.37 L121.32,244.00 L124.06,244.61 L126.80,245.19 L129.54,245.76 L132.28,246.31 L135.02,246.84 L137.76,247.35 L140.50,247.85 L143.24,248.33 L145.98,248.79 L148.72,249.24 L151.46,249.67 L154.20,250.09 L156.94,250.50 L159.68,250.89 L162.42,251.27 L165.16,251.63 L167.90,251.99 L170.64,252.33 L173.38,252.66 L176.12,252.98"/>
<path d="M55.56,222.57 L58.30,224.46 L61.04,226.25 L63.78,227.97 L66.52,229.60 L69.26,231.15 L72.00,232.63 L74.74,234.04 L77.48,235.38 L80.22,236.66 L82.96,237.88 L85.70,239.04 L88.44,240.15 L91.18,241.20 L93.92,242.21 L96.66,243.16 L99.40,244.07 L102.14,244.94 L104.88,245.76 L107.62,246.55 L110.36,247.30 L113.10,248.02 L115.84,248.70 L118.58,249.34 L121.32,249.96 L124.06,250.55 L126.80,251.11 L129.54,251.64 L132.28,252.15 L135.02,252.63 L137.76,253.09 L140.50,253.53 L143.24,253.95 L145.98,254.35 L148.72,254.73 L151.46,255.09 L154.20,255.44 L156.94,255.76 L159.68,256.08 L162.42,256.37 L165.16,256.66 L167.90,256.93 L170.64,257.18 L173.38,257.43 L176.12,257.66 L178.86,257.89 L181.60,258.10 L184.34,258.30 L187.08,258.49 L189.82,258.67 L192.56,258.85 L195.30,259.01 L198.04,259.17 L200.78,259.32 L203.52,259.47 L206.26,259.60 L209.00,259.73"/>
<path d="M55.56,225.22 L58.30,226.17 L61.04,227.10 L63.78,228.00 L66.52,228.88 L69.26,229.73 L72.00,230.57 L74.74,231.38 L77.48,232.17 L80.22,232.94 L82.96,233.70 L85.70,234.43 L88.44,235.14 L91.18,235.84 L93.92,236.52 L96.66,237.18 L99.40,237.82 L102.14,238.45 L104.88,239.06 L107.62,239.66 L110.36,240.24 L113.10,240.80 L115.84,241.35 L118.58,241.89 L121.32,242.41 L124.06,242.92 L126.80,243.42 L129.54,243.90 L132.28,244.38 L135.02,244.84 L137.76,245.28 L140.50,245.72 L143.24,246.15 L145.98,246.56 L148.72,246.96 L151.46,247.36 L154.20,247.74 L156.94,248.11 L159.68,248.48 L162.42,248.83 L165.16,249.18 L167.90,249.52 L170.64,249.84 L173.38,250.16 L176.12,250.48 L178.86,250.78 L181.60,251.07 L184.34,251.36 L187.08,251.64 L189.82,251.92 L192.56,252.18 L195.30,252.44 L198.04,252.70 L200.78,252.95 L203.52,253.19 L206.26,253.42 L209.00,253.65 L211.74,253.87 L214.48,254.09 L217.22,254.30 L219.96,254.50"/>
<path d="M55.56,230.53 L58.30,231.42 L61.04,232.28 L63.78,233.12 L66.52,233.94 L69.26,234.74 L72.00,235.51 L74.74,236.26 L77.48,236.99 L80.22,237.70 L82.96,238.39 L85.70,239.06 L88.44,239.71 L91.18,240.35 L93.92,240.96 L96.66,241.56 L99.40,242.14 L102.14,242.71 L104.88,243.26 L107.62,243.79 L110.36,244.31 L113.10,244.82 L115.84,245.31 L118.58,245.78 L121.32,246.25 L124.06,246.70 L126.80,247.14 L129.54,247.56 L132.28,247.98 L135.02,248.38 L137.76,248.77 L140.50,249.15 L143.24,249.52 L145.98,249.88 L148.72,250.23 L151.46,250.57 L154.20,250.90 L156.94,251.22 L159.68,251.53 L162.42,251.83 L165.16,252.12 L167.90,252.41 L170.64,252.69 L173.38,252.96 L176.12,253.22 L178.86,253.48 L181.60,253.73 L184.34,253.97 L187.08,254.20"/>
<path d="M55.56,233.18 L58.30,234.43 L61.04,235.64 L63.78,236.79 L66.52,237.89 L69.26,238.94 L72.00,239.95 L74.74,240.92 L77.48,241.84 L80.22,242.72 L82.96,243.57 L85.70,244.38 L88.44,245.15 L91.18,245.89 L93.92,246.60 L96.66,247.28 L99.40,247.93 L102.14,248.55 L104.88,249.14 L107.62,249.71 L110.36,250.26 L113.10,250.78 L115.84,251.28 L118.58,251.75 L121.32,252.21 L124.06,252.65 L126.80,253.06 L129.54,253.46 L132.28,253.85 L135.02,254.21 L137.76,254.56 L140.50,254.90 L143.24,255.22 L145.98,255.53 L148.72,255.82 L151.46,256.10 L154.20,256.37 L156.94,256.63 L159.68,256.87 L162.42,257.11 L165.16,257.34 L167.90,257.55 L170.64,257.76 L173.38,257.96 L176.12,258.15 L178.86,258.33 L181.60,258.50 L184.34,258.67 L187.08,258.82 L189.82,258.98 L192.56,259.12 L195.30,259.26 L198.04,259.39 L200.78,259.52 L203.52,259.64 L206.26,259.76 L209.00,259.87 L211.74,259.98 L214.48,260.08 L217.22,260.18 L219.96,260.27"/>
<path d="M55.56,235.83 L58.30,236.45 L61.04,237.06 L63.78,237.65 L66.52,238.22 L69.26,238.79 L72.00,239.34 L74.74,239.88 L77.48,240.40 L80.22,240.91 L82.96,241.42 L85.70,241.90 L88.44,242.38 L91.18,242.85 L93.92,243.30 L96.66,243.75 L99.40,244.18 L102.14,244.61 L104.88,245.02 L107.62,245.43 L110.36,245.82 L113.10,246.21 L115.84,246.59 L118.58,246.96 L121.32,247.32 L124.06,247.67 L126.80,248.01 L129.54,248.35 L132.28,248.67 L135.02,248.99 L137.76,249.30 L140.50,249.61 L143.24,249.91 L145.98,250.20 L148.72,250.48 L151.46,250.76 L154.20,251.03 L156.94,251.30 L159.68,251.55 L162.42,251.81 L165.16,252.05 L167.90,252.29 L170.64,252.53 L173.38,252.76 L176.12,252.98 L178.86,253.20 L181.60,253.41 L184.34,253.62 L187.08,253.83 L189.82,254.03 L192.56,254.22 L195.30,254.41 L198.04,254.60 L200.78,254.78 L203.52,254.95 L206.26,255.13 L209.00,255.30"/>
<path d="M55.56,236.89 L58.30,237.65 L61.04,238.38 L63.78,239.10 L66.52,239.79 L69.26,240.46 L72.00,241.11 L74.74,241.74 L77.48,242.36 L80.22,242.95 L82.96,243.53 L85.70,244.09 L88.44,244.63 L91.18,245.16 L93.92,245.67 L96.66,246.17 L99.40,246.65 L102.14,247.11 L104.88,247.57 L107.62,248.01 L110.36,248.43 L113.10,248.85 L115.84,249.25 L118.58,249.64 L121.32,250.02 L124.06,250.38 L126.80,250.74 L129.54,251.09 L132.28,251.42 L135.02,251.75 L137.76,252.06 L140.50,252.37 L143.24,252.66 L145.98,252.95 L148.72,253.23 L151.46,253.50 L154.20,253.77 L156.94,254.02 L159.68,254.27 L162.42,254.51 L165.16,254.74 L167.90,254.97 L170.64,255.19 L173.38,255.40 L176.12,255.61 L178.86,255.81 L181.60,256.00 L184.34,256.19 L187.08,256.38 L189.82,256.55 L192.56,256.73 L195.30,256.89 L198.04,257.06 L200.78,257.21 L203.52,257.37 L206.26,257.51 L209.00,257.66 L211.74,257.80 L214.48,257.93 L217.22,258.06 L219.96,258.19"/>
<path d="M55.56,239.81 L58.30,240.58 L61.04,241.33 L63.78,242.05 L66.52,242.74 L69.26,243.42 L72.00,244.07 L74.74,244.69 L77.48,245.30 L80.22,245.88 L82.96,246.45 L85.70,246.99 L88.44,247.52 L91.18,248.03 L93.92,248.52 L96.66,248.99 L99.40,249.45 L102.14,249.89 L104.88,250.32 L107.62,250.73 L110.36,251.13 L113.10,251.52 L115.84,251.89 L118.58,252.25 L121.32,252.59 L124.06,252.93 L126.80,253.25 L129.54,253.56 L132.28,253.87 L135.02,254.16 L137.76,254.44 L140.50,254.71 L143.24,254.97 L145.98,255.22 L148.72,255.47 L151.46,255.70 L154.20,255.93 L156.94,256.15 L159.68,256.36 L162.42,256.57 L165.16,256.77 L167.90,256.96 L170.64,257.14 L173.38,257.32 L176.12,257.50 L178.86,257.66 L181.60,257.82 L184.34,257.98 L187.08,258.13 L189.82,258.27 L192.56,258.41 L195.30,258.55 L198.04,258.68 L200.78,258.80 L203.52,258.93 L206.26,259.04 L209.00,259.16 L211.74,259.27 L214.48,259.37 L217.22,259.47 L219.96,259.57"/>
<path d="M55.56,227.87 L58.30,228.46 L61.04,229.03 L63.78,229.59 L66.52,230.14 L69.26,230.69 L72.00,231.22 L74.74,231.75 L77.48,232.26 L80.22,232.77 L82.96,233.27 L85.70,233.76 L88.44,234.24 L91.18,234.72 L93.92,235.19 L96.66,235.64 L99.40,236.09 L102.14,236.54 L104.88,236.97 L107.62,237.40 L110.36,237.82 L113.10,238.24 L115.84,238.64 L118.58,239.04 L121.32,239.44 L124.06,239.82 L126.80,240.20 L129.54,240.58 L132.28,240.95 L135.02,241.31 L137.76,241.66 L140.50,242.01 L143.24,242.35 L145.98,242.69 L148.72,243.02 L151.46,243.35 L154.20,243.67 L156.94,243.99 L159.68,244.30 L162.42,244.60 L165.16,244.90 L167.90,245.20 L170.64,245.48 L173.38,245.77 L176.12,246.05 L178.86,246.32 L181.60,246.60 L184.34,246.86 L187.08,247.12 L189.82,247.38 L192.56,247.63 L195.30,247.88 L198.04,248.13"/>
</g>
<rect x="170" y="27.5" width="156.0" height="150" fill="#fff"/>
<rect x="209.0" y="29.5" width="115.0" height="115.4" fill="#fff" stroke="#6e6e6e" stroke-width="1"/>
<line x1="209.50" y1="144.9" x2="209.50" y2="148.4" stroke="#6e6e6e" stroke-width="1"/>
<text x="209.50" y="160.2" font-family="Liberation Sans" font-size="9.3" text-anchor="middle" fill="#231f20">0</text>
<line x1="231.32" y1="144.9" x2="231.32" y2="148.4" stroke="#6e6e6e" stroke-width="1"/>
<text x="231.32" y="160.2" font-family="Liberation Sans" font-size="9.3" text-anchor="middle" fill="#231f20">5</text>
<line x1="253.14" y1="144.9" x2="253.14" y2="148.4" stroke="#6e6e6e" stroke-width="1"/>
<text x="253.14" y="160.2" font-family="Liberation Sans" font-size="9.3" text-anchor="middle" fill="#231f20">10</text>
<line x1="274.96" y1="144.9" x2="274.96" y2="148.4" stroke="#6e6e6e" stroke-width="1"/>
<text x="274.96" y="160.2" font-family="Liberation Sans" font-size="9.3" text-anchor="middle" fill="#231f20">15</text>
<line x1="296.78" y1="144.9" x2="296.78" y2="148.4" stroke="#6e6e6e" stroke-width="1"/>
<text x="296.78" y="160.2" font-family="Liberation Sans" font-size="9.3" text-anchor="middle" fill="#231f20">20</text>
<line x1="318.60" y1="144.9" x2="318.60" y2="148.4" stroke="#6e6e6e" stroke-width="1"/>
<text x="318.60" y="160.2" font-family="Liberation Sans" font-size="9.3" text-anchor="middle" fill="#231f20">25</text>
<line x1="205.5" y1="109.30" x2="209.0" y2="109.30" stroke="#6e6e6e" stroke-width="1"/>
<text x="200.2" y="112.70" font-family="Liberation Sans" font-size="9.3" text-anchor="end" fill="#231f20">0</text>
<line x1="205.5" y1="72.60" x2="209.0" y2="72.60" stroke="#6e6e6e" stroke-width="1"/>
<text x="200.2" y="76.00" font-family="Liberation Sans" font-size="9.3" text-anchor="end" fill="#231f20">0.5</text>
<line x1="205.5" y1="35.90" x2="209.0" y2="35.90" stroke="#6e6e6e" stroke-width="1"/>
<text x="200.2" y="39.30" font-family="Liberation Sans" font-size="9.3" text-anchor="end" fill="#231f20">1.0</text>
<text x="266" y="175.6" font-family="Liberation Sans" font-size="10.4" text-anchor="middle" fill="#231f20">Day</text>
<text transform="translate(179.9,86.5) rotate(-90)" font-family="Liberation Sans" font-size="11.3" text-anchor="middle" fill="#231f20">Normalized NEE</text>
<g fill="#15337f" fill-opacity="0.6">
<circle cx="213.86" cy="37.37" r="1.45"/>
<circle cx="213.86" cy="64.01" r="1.45"/>
<circle cx="213.86" cy="61.81" r="1.45"/>
<circle cx="213.86" cy="61.26" r="1.45"/>
<circle cx="213.86" cy="58.23" r="1.45"/>
<circle cx="213.86" cy="55.83" r="1.45"/>
<circle cx="213.86" cy="54.16" r="1.45"/>
<circle cx="213.86" cy="52.30" r="1.45"/>
<circle cx="213.86" cy="50.90" r="1.45"/>
<circle cx="213.86" cy="49.56" r="1.45"/>
<circle cx="213.86" cy="46.47" r="1.45"/>
<circle cx="213.86" cy="45.42" r="1.45"/>
<circle cx="213.86" cy="42.61" r="1.45"/>
<circle cx="213.86" cy="40.36" r="1.45"/>
<circle cx="213.86" cy="76.52" r="1.45"/>
<circle cx="213.86" cy="75.29" r="1.45"/>
<circle cx="213.86" cy="73.40" r="1.45"/>
<circle cx="218.23" cy="35.17" r="1.45"/>
<circle cx="218.23" cy="66.04" r="1.45"/>
<circle cx="218.23" cy="65.17" r="1.45"/>
<circle cx="218.23" cy="63.30" r="1.45"/>
<circle cx="218.23" cy="61.29" r="1.45"/>
<circle cx="218.23" cy="57.86" r="1.45"/>
<circle cx="218.23" cy="56.10" r="1.45"/>
<circle cx="218.23" cy="55.43" r="1.45"/>
<circle cx="218.23" cy="52.14" r="1.45"/>
<circle cx="218.23" cy="49.88" r="1.45"/>
<circle cx="218.23" cy="48.56" r="1.45"/>
<circle cx="218.23" cy="47.20" r="1.45"/>
<circle cx="218.23" cy="44.86" r="1.45"/>
<circle cx="218.23" cy="43.72" r="1.45"/>
<circle cx="218.23" cy="41.99" r="1.45"/>
<circle cx="218.23" cy="38.16" r="1.45"/>
<circle cx="218.23" cy="77.36" r="1.45"/>
<circle cx="218.23" cy="75.86" r="1.45"/>
<circle cx="218.23" cy="73.45" r="1.45"/>
<circle cx="222.59" cy="38.10" r="1.45"/>
<circle cx="222.59" cy="44.71" r="1.45"/>
<circle cx="222.59" cy="48.38" r="1.45"/>
<circle cx="222.59" cy="84.96" r="1.45"/>
<circle cx="222.59" cy="82.12" r="1.45"/>
<circle cx="222.59" cy="80.24" r="1.45"/>
<circle cx="222.59" cy="79.48" r="1.45"/>
<circle cx="222.59" cy="77.42" r="1.45"/>
<circle cx="222.59" cy="75.37" r="1.45"/>
<circle cx="222.59" cy="73.50" r="1.45"/>
<circle cx="222.59" cy="70.85" r="1.45"/>
<circle cx="222.59" cy="69.52" r="1.45"/>
<circle cx="222.59" cy="67.23" r="1.45"/>
<circle cx="222.59" cy="65.83" r="1.45"/>
<circle cx="222.59" cy="62.32" r="1.45"/>
<circle cx="222.59" cy="61.44" r="1.45"/>
<circle cx="222.59" cy="59.26" r="1.45"/>
<circle cx="222.59" cy="57.04" r="1.45"/>
<circle cx="222.59" cy="54.44" r="1.45"/>
<circle cx="226.96" cy="94.52" r="1.45"/>
<circle cx="226.96" cy="91.56" r="1.45"/>
<circle cx="226.96" cy="90.40" r="1.45"/>
<circle cx="226.96" cy="88.37" r="1.45"/>
<circle cx="226.96" cy="86.40" r="1.45"/>
<circle cx="226.96" cy="85.42" r="1.45"/>
<circle cx="226.96" cy="82.61" r="1.45"/>
<circle cx="226.96" cy="81.14" r="1.45"/>
<circle cx="226.96" cy="79.52" r="1.45"/>
<circle cx="226.96" cy="75.97" r="1.45"/>
<circle cx="226.96" cy="75.23" r="1.45"/>
<circle cx="226.96" cy="72.65" r="1.45"/>
<circle cx="226.96" cy="70.18" r="1.45"/>
<circle cx="226.96" cy="68.53" r="1.45"/>
<circle cx="226.96" cy="67.01" r="1.45"/>
<circle cx="226.96" cy="64.65" r="1.45"/>
<circle cx="226.96" cy="62.60" r="1.45"/>
<circle cx="226.96" cy="60.17" r="1.45"/>
<circle cx="226.96" cy="59.53" r="1.45"/>
<circle cx="226.96" cy="56.65" r="1.45"/>
<circle cx="226.96" cy="55.29" r="1.45"/>
<circle cx="226.96" cy="53.26" r="1.45"/>
<circle cx="226.96" cy="50.30" r="1.45"/>
<circle cx="231.32" cy="34.43" r="1.45"/>
<circle cx="231.32" cy="52.05" r="1.45"/>
<circle cx="231.32" cy="98.78" r="1.45"/>
<circle cx="231.32" cy="96.74" r="1.45"/>
<circle cx="231.32" cy="94.42" r="1.45"/>
<circle cx="231.32" cy="92.19" r="1.45"/>
<circle cx="231.32" cy="91.16" r="1.45"/>
<circle cx="231.32" cy="88.90" r="1.45"/>
<circle cx="231.32" cy="87.17" r="1.45"/>
<circle cx="231.32" cy="85.22" r="1.45"/>
<circle cx="231.32" cy="82.94" r="1.45"/>
<circle cx="231.32" cy="81.47" r="1.45"/>
<circle cx="231.32" cy="79.38" r="1.45"/>
<circle cx="231.32" cy="77.55" r="1.45"/>
<circle cx="231.32" cy="74.72" r="1.45"/>
<circle cx="231.32" cy="73.25" r="1.45"/>
<circle cx="231.32" cy="70.97" r="1.45"/>
<circle cx="231.32" cy="68.91" r="1.45"/>
<circle cx="231.32" cy="68.29" r="1.45"/>
<circle cx="231.32" cy="65.78" r="1.45"/>
<circle cx="231.32" cy="63.10" r="1.45"/>
<circle cx="231.32" cy="61.37" r="1.45"/>
<circle cx="231.32" cy="60.79" r="1.45"/>
<circle cx="231.32" cy="58.89" r="1.45"/>
<circle cx="235.68" cy="41.04" r="1.45"/>
<circle cx="235.68" cy="54.25" r="1.45"/>
<circle cx="235.68" cy="59.58" r="1.45"/>
<circle cx="235.68" cy="58.81" r="1.45"/>
<circle cx="235.68" cy="57.38" r="1.45"/>
<circle cx="235.68" cy="100.35" r="1.45"/>
<circle cx="235.68" cy="97.31" r="1.45"/>
<circle cx="235.68" cy="95.18" r="1.45"/>
<circle cx="235.68" cy="93.05" r="1.45"/>
<circle cx="235.68" cy="92.56" r="1.45"/>
<circle cx="235.68" cy="89.58" r="1.45"/>
<circle cx="235.68" cy="87.78" r="1.45"/>
<circle cx="235.68" cy="86.86" r="1.45"/>
<circle cx="235.68" cy="83.54" r="1.45"/>
<circle cx="235.68" cy="81.47" r="1.45"/>
<circle cx="235.68" cy="80.99" r="1.45"/>
<circle cx="235.68" cy="77.68" r="1.45"/>
<circle cx="235.68" cy="76.83" r="1.45"/>
<circle cx="235.68" cy="74.75" r="1.45"/>
<circle cx="235.68" cy="71.89" r="1.45"/>
<circle cx="235.68" cy="70.28" r="1.45"/>
<circle cx="235.68" cy="69.65" r="1.45"/>
<circle cx="235.68" cy="67.23" r="1.45"/>
<circle cx="235.68" cy="65.16" r="1.45"/>
<circle cx="235.68" cy="63.59" r="1.45"/>
<circle cx="240.05" cy="47.64" r="1.45"/>
<circle cx="240.05" cy="63.06" r="1.45"/>
<circle cx="240.05" cy="100.12" r="1.45"/>
<circle cx="240.05" cy="97.96" r="1.45"/>
<circle cx="240.05" cy="95.27" r="1.45"/>
<circle cx="240.05" cy="94.70" r="1.45"/>
<circle cx="240.05" cy="91.76" r="1.45"/>
<circle cx="240.05" cy="90.07" r="1.45"/>
<circle cx="240.05" cy="88.96" r="1.45"/>
<circle cx="240.05" cy="86.44" r="1.45"/>
<circle cx="240.05" cy="83.96" r="1.45"/>
<circle cx="240.05" cy="82.26" r="1.45"/>
<circle cx="240.05" cy="81.20" r="1.45"/>
<circle cx="240.05" cy="77.52" r="1.45"/>
<circle cx="240.05" cy="75.98" r="1.45"/>
<circle cx="240.05" cy="73.71" r="1.45"/>
<circle cx="240.05" cy="73.46" r="1.45"/>
<circle cx="240.05" cy="71.23" r="1.45"/>
<circle cx="240.05" cy="69.75" r="1.45"/>
<circle cx="240.05" cy="66.42" r="1.45"/>
<circle cx="240.05" cy="104.16" r="1.45"/>
<circle cx="240.05" cy="109.30" r="1.45"/>
<circle cx="244.41" cy="64.53" r="1.45"/>
<circle cx="244.41" cy="108.04" r="1.45"/>
<circle cx="244.41" cy="106.36" r="1.45"/>
<circle cx="244.41" cy="103.82" r="1.45"/>
<circle cx="244.41" cy="100.91" r="1.45"/>
<circle cx="244.41" cy="99.13" r="1.45"/>
<circle cx="244.41" cy="98.27" r="1.45"/>
<circle cx="244.41" cy="96.53" r="1.45"/>
<circle cx="244.41" cy="93.07" r="1.45"/>
<circle cx="244.41" cy="91.79" r="1.45"/>
<circle cx="244.41" cy="89.58" r="1.45"/>
<circle cx="244.41" cy="88.82" r="1.45"/>
<circle cx="244.41" cy="86.92" r="1.45"/>
<circle cx="244.41" cy="83.73" r="1.45"/>
<circle cx="244.41" cy="82.29" r="1.45"/>
<circle cx="244.41" cy="81.02" r="1.45"/>
<circle cx="244.41" cy="77.37" r="1.45"/>
<circle cx="244.41" cy="76.01" r="1.45"/>
<circle cx="244.41" cy="73.72" r="1.45"/>
<circle cx="244.41" cy="73.17" r="1.45"/>
<circle cx="244.41" cy="69.70" r="1.45"/>
<circle cx="244.41" cy="69.29" r="1.45"/>
<circle cx="244.41" cy="112.24" r="1.45"/>
<circle cx="248.78" cy="63.06" r="1.45"/>
<circle cx="248.78" cy="107.60" r="1.45"/>
<circle cx="248.78" cy="106.44" r="1.45"/>
<circle cx="248.78" cy="104.70" r="1.45"/>
<circle cx="248.78" cy="102.31" r="1.45"/>
<circle cx="248.78" cy="99.60" r="1.45"/>
<circle cx="248.78" cy="98.93" r="1.45"/>
<circle cx="248.78" cy="97.23" r="1.45"/>
<circle cx="248.78" cy="94.48" r="1.45"/>
<circle cx="248.78" cy="93.08" r="1.45"/>
<circle cx="248.78" cy="91.37" r="1.45"/>
<circle cx="248.78" cy="89.30" r="1.45"/>
<circle cx="248.78" cy="87.55" r="1.45"/>
<circle cx="248.78" cy="85.28" r="1.45"/>
<circle cx="248.78" cy="83.10" r="1.45"/>
<circle cx="248.78" cy="81.14" r="1.45"/>
<circle cx="248.78" cy="78.28" r="1.45"/>
<circle cx="248.78" cy="77.23" r="1.45"/>
<circle cx="248.78" cy="74.85" r="1.45"/>
<circle cx="248.78" cy="73.52" r="1.45"/>
<circle cx="248.78" cy="71.22" r="1.45"/>
<circle cx="248.78" cy="69.90" r="1.45"/>
<circle cx="248.78" cy="67.47" r="1.45"/>
<circle cx="248.78" cy="113.70" r="1.45"/>
<circle cx="253.14" cy="46.18" r="1.45"/>
<circle cx="253.14" cy="68.93" r="1.45"/>
<circle cx="253.14" cy="74.07" r="1.45"/>
<circle cx="253.14" cy="107.07" r="1.45"/>
<circle cx="253.14" cy="103.81" r="1.45"/>
<circle cx="253.14" cy="102.26" r="1.45"/>
<circle cx="253.14" cy="101.05" r="1.45"/>
<circle cx="253.14" cy="98.61" r="1.45"/>
<circle cx="253.14" cy="95.84" r="1.45"/>
<circle cx="253.14" cy="95.52" r="1.45"/>
<circle cx="253.14" cy="92.27" r="1.45"/>
<circle cx="253.14" cy="91.11" r="1.45"/>
<circle cx="253.14" cy="89.09" r="1.45"/>
<circle cx="253.14" cy="86.55" r="1.45"/>
<circle cx="253.14" cy="85.49" r="1.45"/>
<circle cx="257.50" cy="74.07" r="1.45"/>
<circle cx="257.50" cy="83.61" r="1.45"/>
<circle cx="257.50" cy="110.57" r="1.45"/>
<circle cx="257.50" cy="108.40" r="1.45"/>
<circle cx="257.50" cy="106.03" r="1.45"/>
<circle cx="257.50" cy="105.37" r="1.45"/>
<circle cx="257.50" cy="102.63" r="1.45"/>
<circle cx="257.50" cy="101.03" r="1.45"/>
<circle cx="257.50" cy="99.32" r="1.45"/>
<circle cx="257.50" cy="97.91" r="1.45"/>
<circle cx="257.50" cy="96.18" r="1.45"/>
<circle cx="257.50" cy="94.89" r="1.45"/>
<circle cx="257.50" cy="92.91" r="1.45"/>
<circle cx="257.50" cy="91.19" r="1.45"/>
<circle cx="261.87" cy="59.39" r="1.45"/>
<circle cx="261.87" cy="90.22" r="1.45"/>
<circle cx="261.87" cy="110.82" r="1.45"/>
<circle cx="261.87" cy="109.84" r="1.45"/>
<circle cx="261.87" cy="108.11" r="1.45"/>
<circle cx="261.87" cy="106.35" r="1.45"/>
<circle cx="261.87" cy="103.00" r="1.45"/>
<circle cx="261.87" cy="101.03" r="1.45"/>
<circle cx="261.87" cy="99.51" r="1.45"/>
<circle cx="261.87" cy="98.34" r="1.45"/>
<circle cx="261.87" cy="96.51" r="1.45"/>
<circle cx="261.87" cy="94.50" r="1.45"/>
<circle cx="261.87" cy="118.17" r="1.45"/>
<circle cx="261.87" cy="117.14" r="1.45"/>
<circle cx="261.87" cy="132.79" r="1.45"/>
<circle cx="266.23" cy="68.93" r="1.45"/>
<circle cx="266.23" cy="92.42" r="1.45"/>
<circle cx="266.23" cy="113.65" r="1.45"/>
<circle cx="266.23" cy="112.21" r="1.45"/>
<circle cx="266.23" cy="109.22" r="1.45"/>
<circle cx="266.23" cy="107.44" r="1.45"/>
<circle cx="266.23" cy="106.43" r="1.45"/>
<circle cx="266.23" cy="105.20" r="1.45"/>
<circle cx="266.23" cy="102.17" r="1.45"/>
<circle cx="266.23" cy="101.56" r="1.45"/>
<circle cx="266.23" cy="99.72" r="1.45"/>
<circle cx="266.23" cy="98.58" r="1.45"/>
<circle cx="266.23" cy="127.65" r="1.45"/>
<circle cx="266.23" cy="139.39" r="1.45"/>
<circle cx="270.60" cy="87.28" r="1.45"/>
<circle cx="270.60" cy="96.09" r="1.45"/>
<circle cx="270.60" cy="106.47" r="1.45"/>
<circle cx="270.60" cy="104.66" r="1.45"/>
<circle cx="270.60" cy="102.96" r="1.45"/>
<circle cx="270.60" cy="101.81" r="1.45"/>
<circle cx="270.60" cy="121.77" r="1.45"/>
<circle cx="270.60" cy="121.04" r="1.45"/>
<circle cx="270.60" cy="119.19" r="1.45"/>
<circle cx="270.60" cy="117.98" r="1.45"/>
<circle cx="270.60" cy="129.12" r="1.45"/>
<circle cx="274.96" cy="94.62" r="1.45"/>
<circle cx="274.96" cy="112.29" r="1.45"/>
<circle cx="274.96" cy="111.19" r="1.45"/>
<circle cx="274.96" cy="109.51" r="1.45"/>
<circle cx="274.96" cy="107.31" r="1.45"/>
<circle cx="274.96" cy="105.72" r="1.45"/>
<circle cx="274.96" cy="103.40" r="1.45"/>
<circle cx="274.96" cy="101.79" r="1.45"/>
<circle cx="274.96" cy="99.70" r="1.45"/>
<circle cx="274.96" cy="98.14" r="1.45"/>
<circle cx="274.96" cy="120.31" r="1.45"/>
<circle cx="274.96" cy="125.45" r="1.45"/>
<circle cx="274.96" cy="135.72" r="1.45"/>
<circle cx="279.32" cy="90.22" r="1.45"/>
<circle cx="279.32" cy="110.23" r="1.45"/>
<circle cx="279.32" cy="108.15" r="1.45"/>
<circle cx="279.32" cy="107.24" r="1.45"/>
<circle cx="279.32" cy="105.57" r="1.45"/>
<circle cx="279.32" cy="102.62" r="1.45"/>
<circle cx="279.32" cy="102.32" r="1.45"/>
<circle cx="279.32" cy="99.52" r="1.45"/>
<circle cx="279.32" cy="120.31" r="1.45"/>
<circle cx="283.69" cy="104.69" r="1.45"/>
<circle cx="283.69" cy="104.10" r="1.45"/>
<circle cx="283.69" cy="101.47" r="1.45"/>
<circle cx="283.69" cy="132.79" r="1.45"/>
<circle cx="288.05" cy="104.32" r="1.45"/>
<circle cx="288.05" cy="103.24" r="1.45"/>
<circle cx="288.05" cy="101.62" r="1.45"/>
<circle cx="288.05" cy="133.52" r="1.45"/>
<circle cx="292.42" cy="107.91" r="1.45"/>
<circle cx="292.42" cy="107.35" r="1.45"/>
<circle cx="292.42" cy="104.98" r="1.45"/>
<circle cx="292.42" cy="133.52" r="1.45"/>
<circle cx="296.78" cy="108.56" r="1.45"/>
<circle cx="296.78" cy="106.61" r="1.45"/>
<circle cx="296.78" cy="105.18" r="1.45"/>
<circle cx="296.78" cy="103.68" r="1.45"/>
<circle cx="296.78" cy="134.99" r="1.45"/>
<circle cx="301.14" cy="104.90" r="1.45"/>
<circle cx="305.51" cy="115.91" r="1.45"/>
<circle cx="309.87" cy="114.44" r="1.45"/>
<circle cx="314.24" cy="111.50" r="1.45"/>
<circle cx="318.60" cy="114.44" r="1.45"/>
</g>
<path d="M213.86,50.44 L214.96,53.03 L216.05,55.51 L217.14,57.88 L218.23,60.14 L219.32,62.30 L220.41,64.37 L221.50,66.35 L222.59,68.24 L223.68,70.04 L224.77,71.77 L225.87,73.42 L226.96,75.00 L228.05,76.51 L229.14,77.95 L230.23,79.33 L231.32,80.65 L232.41,81.91 L233.50,83.12 L234.59,84.27 L235.68,85.37 L236.78,86.42 L237.87,87.43 L238.96,88.39 L240.05,89.31 L241.14,90.19 L242.23,91.03 L243.32,91.84 L244.41,92.61 L245.50,93.34 L246.59,94.04 L247.69,94.71 L248.78,95.36 L249.87,95.97 L250.96,96.56 L252.05,97.12 L253.14,97.65 L254.23,98.16 L255.32,98.65 L256.41,99.12 L257.50,99.57 L258.60,100.00 L259.69,100.41 L260.78,100.80 L261.87,101.17 L262.96,101.53 L264.05,101.87 L265.14,102.20 L266.23,102.51 L267.32,102.81 L268.41,103.10 L269.50,103.37 L270.60,103.63 L271.69,103.88 L272.78,104.12 L273.87,104.35 L274.96,104.56 L276.05,104.77 L277.14,104.97 L278.23,105.16 L279.32,105.34 L280.41,105.52 L281.51,105.68 L282.60,105.84 L283.69,106.00 L284.78,106.14 L285.87,106.28 L286.96,106.41 L288.05,106.54 L289.14,106.66 L290.23,106.78 L291.32,106.89 L292.42,106.99 L293.51,107.10 L294.60,107.19 L295.69,107.29 L296.78,107.37 L297.87,107.46 L298.96,107.54 L300.05,107.62 L301.14,107.69 L302.24,107.76 L303.33,107.83 L304.42,107.89 L305.51,107.96 L306.60,108.02 L307.69,108.07 L308.78,108.13 L309.87,108.18 L310.96,108.23 L312.05,108.27 L313.14,108.32 L314.24,108.36 L315.33,108.40 L316.42,108.44 L317.51,108.48 L318.60,108.52" fill="none" stroke="#000" stroke-width="2"/>
<text x="264.6" y="42.8" font-family="Liberation Sans" font-size="9.2" fill="#231f20"><tspan font-style="italic">y</tspan> = 0.96e<tspan font-size="6" dy="-3.6" dx="0.6">−0.16<tspan font-style="italic">x</tspan></tspan></text>
<text x="264.6" y="52.9" font-family="Liberation Sans" font-size="9" fill="#231f20"><tspan font-style="italic">P</tspan> &lt; 0.001</text>
<rect x="395.6" y="20.5" width="288.9" height="118.2" fill="none" stroke="#6e6e6e" stroke-width="1"/>
<line x1="391.1" y1="134.40" x2="395.6" y2="134.40" stroke="#6e6e6e" stroke-width="1"/>
<text x="386.6" y="137.80" font-family="Liberation Sans" font-size="9.3" text-anchor="end" fill="#231f20">0</text>
<line x1="391.1" y1="102.75" x2="395.6" y2="102.75" stroke="#6e6e6e" stroke-width="1"/>
<text x="386.6" y="106.15" font-family="Liberation Sans" font-size="9.3" text-anchor="end" fill="#231f20">5</text>
<line x1="391.1" y1="71.10" x2="395.6" y2="71.10" stroke="#6e6e6e" stroke-width="1"/>
<text x="386.6" y="74.50" font-family="Liberation Sans" font-size="9.3" text-anchor="end" fill="#231f20">10</text>
<line x1="391.1" y1="39.45" x2="395.6" y2="39.45" stroke="#6e6e6e" stroke-width="1"/>
<text x="386.6" y="42.85" font-family="Liberation Sans" font-size="9.3" text-anchor="end" fill="#231f20">15</text>
<rect x="400.10" y="50.80" width="28.6" height="83.60" fill="url(#hb)" stroke="#2b4b91" stroke-width="1.25"/>
<line x1="414.50" y1="138.7" x2="414.50" y2="143.39999999999998" stroke="#6e6e6e" stroke-width="1"/>
<g stroke="#222" stroke-width="0.7"><line x1="414.50" y1="25.60" x2="414.50" y2="76.10"/><line x1="412.80" y1="25.60" x2="416.20" y2="25.60"/><line x1="412.80" y1="76.10" x2="416.20" y2="76.10"/></g>
<rect x="431.55" y="58.60" width="28.6" height="75.80" fill="url(#hb)" stroke="#2b4b91" stroke-width="1.25"/>
<line x1="445.50" y1="138.7" x2="445.50" y2="143.39999999999998" stroke="#6e6e6e" stroke-width="1"/>
<g stroke="#222" stroke-width="0.7"><line x1="445.50" y1="33.20" x2="445.50" y2="84.40"/><line x1="443.80" y1="33.20" x2="447.20" y2="33.20"/><line x1="443.80" y1="84.40" x2="447.20" y2="84.40"/></g>
<rect x="463.00" y="59.40" width="28.6" height="75.00" fill="url(#hb)" stroke="#2b4b91" stroke-width="1.25"/>
<line x1="477.50" y1="138.7" x2="477.50" y2="143.39999999999998" stroke="#6e6e6e" stroke-width="1"/>
<g stroke="#222" stroke-width="0.7"><line x1="477.50" y1="35.50" x2="477.50" y2="83.40"/><line x1="475.80" y1="35.50" x2="479.20" y2="35.50"/><line x1="475.80" y1="83.40" x2="479.20" y2="83.40"/></g>
<rect x="494.45" y="76.80" width="28.6" height="57.60" fill="url(#hb)" stroke="#2b4b91" stroke-width="1.25"/>
<line x1="508.50" y1="138.7" x2="508.50" y2="143.39999999999998" stroke="#6e6e6e" stroke-width="1"/>
<g stroke="#222" stroke-width="0.7"><line x1="508.50" y1="43.40" x2="508.50" y2="110.80"/><line x1="506.80" y1="43.40" x2="510.20" y2="43.40"/><line x1="506.80" y1="110.80" x2="510.20" y2="110.80"/></g>
<rect x="525.90" y="92.50" width="28.6" height="41.90" fill="url(#hb)" stroke="#2b4b91" stroke-width="1.25"/>
<line x1="540.50" y1="138.7" x2="540.50" y2="143.39999999999998" stroke="#6e6e6e" stroke-width="1"/>
<g stroke="#222" stroke-width="0.7"><line x1="540.50" y1="77.30" x2="540.50" y2="108.20"/><line x1="538.80" y1="77.30" x2="542.20" y2="77.30"/><line x1="538.80" y1="108.20" x2="542.20" y2="108.20"/></g>
<rect x="557.35" y="104.60" width="28.6" height="29.80" fill="url(#hb)" stroke="#2b4b91" stroke-width="1.25"/>
<line x1="571.50" y1="138.7" x2="571.50" y2="143.39999999999998" stroke="#6e6e6e" stroke-width="1"/>
<g stroke="#222" stroke-width="0.7"><line x1="571.50" y1="90.60" x2="571.50" y2="118.60"/><line x1="569.80" y1="90.60" x2="573.20" y2="90.60"/><line x1="569.80" y1="118.60" x2="573.20" y2="118.60"/></g>
<rect x="588.80" y="119.00" width="28.6" height="15.40" fill="url(#hb)" stroke="#2b4b91" stroke-width="1.25"/>
<line x1="603.50" y1="138.7" x2="603.50" y2="143.39999999999998" stroke="#6e6e6e" stroke-width="1"/>
<g stroke="#222" stroke-width="0.7"><line x1="603.50" y1="116.10" x2="603.50" y2="122.20"/><line x1="601.80" y1="116.10" x2="605.20" y2="116.10"/><line x1="601.80" y1="122.20" x2="605.20" y2="122.20"/></g>
<rect x="620.25" y="122.20" width="28.6" height="12.20" fill="url(#hb)" stroke="#2b4b91" stroke-width="1.25"/>
<line x1="634.50" y1="138.7" x2="634.50" y2="143.39999999999998" stroke="#6e6e6e" stroke-width="1"/>
<g stroke="#222" stroke-width="0.7"><line x1="634.50" y1="113.00" x2="634.50" y2="131.10"/><line x1="632.80" y1="113.00" x2="636.20" y2="113.00"/><line x1="632.80" y1="131.10" x2="636.20" y2="131.10"/></g>
<rect x="651.70" y="128.20" width="28.6" height="6.20" fill="url(#hb)" stroke="#2b4b91" stroke-width="1.25"/>
<line x1="666.50" y1="138.7" x2="666.50" y2="143.39999999999998" stroke="#6e6e6e" stroke-width="1"/>
<g stroke="#222" stroke-width="0.7"><line x1="666.50" y1="122.70" x2="666.50" y2="133.50"/><line x1="664.80" y1="122.70" x2="668.20" y2="122.70"/><line x1="664.80" y1="133.50" x2="668.20" y2="133.50"/></g>
<text x="439.6" y="14.8" font-family="Liberation Sans" font-size="11.4" fill="#231f20">Site-specific pulse intensity (<tspan font-style="italic">α</tspan><tspan font-size="7" dy="2.5" font-style="italic">s</tspan><tspan dy="-2.5">) (62.5%)</tspan></text>
<text x="346" y="11.9" font-family="Liberation Sans" font-size="17" font-weight="bold" fill="#000">b</text>
<text transform="translate(355.6,79.6) rotate(-90)" font-family="Liberation Sans" font-size="11.2" text-anchor="middle" fill="#231f20">Per cent of</text>
<text transform="translate(368.8,79.6) rotate(-90)" font-family="Liberation Sans" font-size="11.2" text-anchor="middle" fill="#231f20">variance explained</text>
<rect x="395.6" y="190.4" width="288.9" height="119.1" fill="none" stroke="#6e6e6e" stroke-width="1"/>
<line x1="391.1" y1="296.50" x2="395.6" y2="296.50" stroke="#6e6e6e" stroke-width="1"/>
<text x="386.6" y="299.90" font-family="Liberation Sans" font-size="9.3" text-anchor="end" fill="#231f20">0</text>
<line x1="391.1" y1="268.80" x2="395.6" y2="268.80" stroke="#6e6e6e" stroke-width="1"/>
<text x="386.6" y="272.20" font-family="Liberation Sans" font-size="9.3" text-anchor="end" fill="#231f20">5</text>
<line x1="391.1" y1="241.10" x2="395.6" y2="241.10" stroke="#6e6e6e" stroke-width="1"/>
<text x="386.6" y="244.50" font-family="Liberation Sans" font-size="9.3" text-anchor="end" fill="#231f20">10</text>
<line x1="391.1" y1="213.40" x2="395.6" y2="213.40" stroke="#6e6e6e" stroke-width="1"/>
<text x="386.6" y="216.80" font-family="Liberation Sans" font-size="9.3" text-anchor="end" fill="#231f20">15</text>
<rect x="400.10" y="275.80" width="28.6" height="20.70" fill="url(#hc)" stroke="#1e9f80" stroke-width="1.25"/>
<line x1="414.50" y1="309.5" x2="414.50" y2="314.2" stroke="#6e6e6e" stroke-width="1"/>
<g stroke="#222" stroke-width="0.7"><line x1="414.50" y1="264.20" x2="414.50" y2="287.40"/><line x1="412.80" y1="264.20" x2="416.20" y2="264.20"/><line x1="412.80" y1="287.40" x2="416.20" y2="287.40"/></g>
<rect x="431.55" y="287.40" width="28.6" height="9.10" fill="url(#hc)" stroke="#1e9f80" stroke-width="1.25"/>
<line x1="445.50" y1="309.5" x2="445.50" y2="314.2" stroke="#6e6e6e" stroke-width="1"/>
<g stroke="#222" stroke-width="0.7"><line x1="445.50" y1="284.60" x2="445.50" y2="289.80"/><line x1="443.80" y1="284.60" x2="447.20" y2="284.60"/><line x1="443.80" y1="289.80" x2="447.20" y2="289.80"/></g>
<rect x="463.00" y="232.60" width="28.6" height="63.90" fill="url(#hc)" stroke="#1e9f80" stroke-width="1.25"/>
<line x1="477.50" y1="309.5" x2="477.50" y2="314.2" stroke="#6e6e6e" stroke-width="1"/>
<g stroke="#222" stroke-width="0.7"><line x1="477.50" y1="195.50" x2="477.50" y2="269.70"/><line x1="475.80" y1="195.50" x2="479.20" y2="195.50"/><line x1="475.80" y1="269.70" x2="479.20" y2="269.70"/></g>
<rect x="494.45" y="282.20" width="28.6" height="14.30" fill="url(#hc)" stroke="#1e9f80" stroke-width="1.25"/>
<line x1="508.50" y1="309.5" x2="508.50" y2="314.2" stroke="#6e6e6e" stroke-width="1"/>
<g stroke="#222" stroke-width="0.7"><line x1="508.50" y1="271.50" x2="508.50" y2="293.40"/><line x1="506.80" y1="271.50" x2="510.20" y2="271.50"/><line x1="506.80" y1="293.40" x2="510.20" y2="293.40"/></g>
<rect x="525.90" y="280.40" width="28.6" height="16.10" fill="url(#hc)" stroke="#1e9f80" stroke-width="1.25"/>
<line x1="540.50" y1="309.5" x2="540.50" y2="314.2" stroke="#6e6e6e" stroke-width="1"/>
<g stroke="#222" stroke-width="0.7"><line x1="540.50" y1="273.20" x2="540.50" y2="288.20"/><line x1="538.80" y1="273.20" x2="542.20" y2="273.20"/><line x1="538.80" y1="288.20" x2="542.20" y2="288.20"/></g>
<rect x="557.35" y="243.30" width="28.6" height="53.20" fill="url(#hc)" stroke="#1e9f80" stroke-width="1.25"/>
<line x1="571.50" y1="309.5" x2="571.50" y2="314.2" stroke="#6e6e6e" stroke-width="1"/>
<g stroke="#222" stroke-width="0.7"><line x1="571.50" y1="207.50" x2="571.50" y2="278.90"/><line x1="569.80" y1="207.50" x2="573.20" y2="207.50"/><line x1="569.80" y1="278.90" x2="573.20" y2="278.90"/></g>
<rect x="588.80" y="285.90" width="28.6" height="10.60" fill="url(#hc)" stroke="#1e9f80" stroke-width="1.25"/>
<line x1="603.50" y1="309.5" x2="603.50" y2="314.2" stroke="#6e6e6e" stroke-width="1"/>
<g stroke="#222" stroke-width="0.7"><line x1="603.50" y1="280.20" x2="603.50" y2="292.20"/><line x1="601.80" y1="280.20" x2="605.20" y2="280.20"/><line x1="601.80" y1="292.20" x2="605.20" y2="292.20"/></g>
<rect x="620.25" y="290.30" width="28.6" height="6.20" fill="url(#hc)" stroke="#1e9f80" stroke-width="1.25"/>
<line x1="634.50" y1="309.5" x2="634.50" y2="314.2" stroke="#6e6e6e" stroke-width="1"/>
<g stroke="#222" stroke-width="0.7"><line x1="634.50" y1="286.20" x2="634.50" y2="294.10"/><line x1="632.80" y1="286.20" x2="636.20" y2="286.20"/><line x1="632.80" y1="294.10" x2="636.20" y2="294.10"/></g>
<rect x="651.70" y="281.40" width="28.6" height="15.10" fill="url(#hc)" stroke="#1e9f80" stroke-width="1.25"/>
<line x1="666.50" y1="309.5" x2="666.50" y2="314.2" stroke="#6e6e6e" stroke-width="1"/>
<g stroke="#222" stroke-width="0.7"><line x1="666.50" y1="258.90" x2="666.50" y2="304.30"/><line x1="664.80" y1="258.90" x2="668.20" y2="258.90"/><line x1="664.80" y1="304.30" x2="668.20" y2="304.30"/></g>
<text x="451.1" y="185.8" font-family="Liberation Sans" font-size="11.4" fill="#231f20">Site-specific decay rate (<tspan font-style="italic">k</tspan><tspan font-size="7" dy="2.5" font-style="italic">s</tspan><tspan dy="-2.5">) (37.5%)</tspan></text>
<text x="346" y="181.3" font-family="Liberation Sans" font-size="17" font-weight="bold" fill="#000">c</text>
<text transform="translate(355.6,249.9) rotate(-90)" font-family="Liberation Sans" font-size="11.2" text-anchor="middle" fill="#231f20">Per cent of</text>
<text transform="translate(368.8,249.9) rotate(-90)" font-family="Liberation Sans" font-size="11.2" text-anchor="middle" fill="#231f20">variance explained</text>
<text transform="translate(419.40,323.8) rotate(-45)" font-family="Liberation Sans" font-size="9.1" text-anchor="end" fill="#231f20">P/PET</text>
<text transform="translate(450.85,323.8) rotate(-45)" font-family="Liberation Sans" font-size="9.1" text-anchor="end" fill="#231f20">GPP</text>
<text transform="translate(482.30,323.8) rotate(-45)" font-family="Liberation Sans" font-size="9.1" text-anchor="end" fill="#231f20">Soil pH</text>
<text transform="translate(513.75,323.8) rotate(-45)" font-family="Liberation Sans" font-size="9.1" text-anchor="end" fill="#231f20">R<tspan font-size="6.5" dy="2.5">g</tspan></text>
<text transform="translate(545.20,323.8) rotate(-45)" font-family="Liberation Sans" font-size="9.1" text-anchor="end" fill="#231f20">SOC</text>
<text transform="translate(576.65,323.8) rotate(-45)" font-family="Liberation Sans" font-size="9.1" text-anchor="end" fill="#231f20">T<tspan font-size="6.5" dy="2.5">air</tspan></text>
<text transform="translate(608.10,323.8) rotate(-45)" font-family="Liberation Sans" font-size="9.1" text-anchor="end" fill="#231f20">Pre-pulse EF</text>
<text transform="translate(639.55,323.8) rotate(-45)" font-family="Liberation Sans" font-size="9.1" text-anchor="end" fill="#231f20">ΔEF</text>
<text transform="translate(671.00,323.8) rotate(-45)" font-family="Liberation Sans" font-size="9.1" text-anchor="end" fill="#231f20">%Clay</text>
<text x="540.5" y="377.8" font-family="Liberation Sans" font-size="11" text-anchor="middle" fill="#231f20">Drivers</text></svg></body></html>
